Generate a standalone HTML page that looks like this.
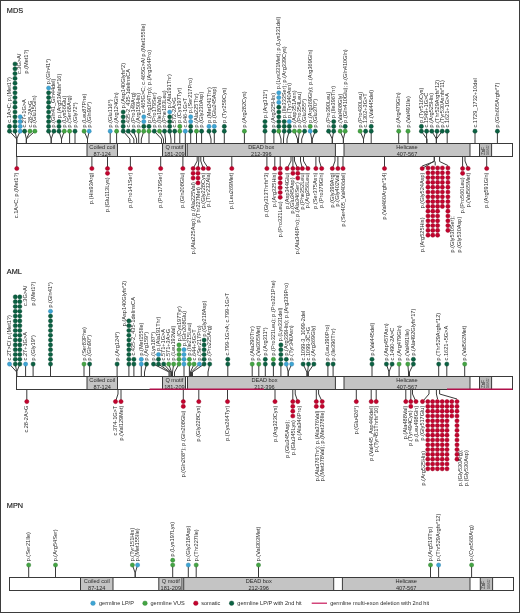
<!DOCTYPE html>
<html><head><meta charset="utf-8"><style>
html,body{margin:0;padding:0;background:#fff;}
body{width:520px;height:613px;overflow:hidden;}
svg{display:block;font-family:"Liberation Sans",sans-serif;will-change:transform;}
</style></head><body>
<svg width="520" height="613" viewBox="0 0 520 613">
<rect x="0.5" y="0.5" width="519" height="612" fill="#fff" stroke="#3d3d3d" stroke-width="1"/>
<text x="6.8" y="12.8" font-size="7.3" fill="#151515" stroke="#151515" stroke-width="0.15">MDS</text>
<rect x="16.5" y="143.5" width="496.0" height="13" fill="#fff" stroke="#3a3a3a" stroke-width="1"/>
<rect x="87" y="143.5" width="30.5" height="13" fill="#c4c4c4" stroke="#3a3a3a" stroke-width="1"/>
<text x="102.25" y="148.70" text-anchor="middle" font-size="5.6" fill="#2a2a2a">Coiled coil</text>
<text x="102.25" y="155.80" text-anchor="middle" font-size="5.6" fill="#2a2a2a">87-124</text>
<rect x="162.5" y="143.5" width="23.0" height="13" fill="#c4c4c4" stroke="#3a3a3a" stroke-width="1"/>
<text x="174.40" y="148.70" text-anchor="middle" font-size="5.6" fill="#2a2a2a">Q motif</text>
<text x="174.40" y="155.80" text-anchor="middle" font-size="5.6" fill="#2a2a2a">181-209</text>
<rect x="187.2" y="143.5" width="148.2" height="13" fill="#c4c4c4" stroke="#3a3a3a" stroke-width="1"/>
<text x="261.30" y="148.70" text-anchor="middle" font-size="5.6" fill="#2a2a2a">DEAD box</text>
<text x="261.30" y="155.80" text-anchor="middle" font-size="5.6" fill="#2a2a2a">212-396</text>
<rect x="344" y="143.5" width="126" height="13" fill="#c4c4c4" stroke="#3a3a3a" stroke-width="1"/>
<text x="407.00" y="148.70" text-anchor="middle" font-size="5.6" fill="#2a2a2a">Helicase</text>
<text x="407.00" y="155.80" text-anchor="middle" font-size="5.6" fill="#2a2a2a">407-567</text>
<rect x="479.5" y="143.5" width="12.100000000000023" height="13" fill="#bcbcbc" stroke="#3a3a3a" stroke-width="1"/>
<text transform="translate(484.50,155.00) rotate(-90)" font-size="4.6" fill="#333">ZnF</text>
<text transform="translate(489.10,155.00) rotate(-90)" font-size="2.6" fill="#444">580-622</text>
<polyline points="9.50,131.20 16.70,139.00 16.70,143.00" fill="none" stroke="#3a3a3a" stroke-width="1.0"/>
<polyline points="15.00,131.20 16.70,139.00 16.70,143.00" fill="none" stroke="#3a3a3a" stroke-width="1.0"/>
<polyline points="20.20,131.20 16.70,139.00 16.70,143.00" fill="none" stroke="#3a3a3a" stroke-width="1.0"/>
<polyline points="24.60,131.20 26.40,139.00 26.40,143.00" fill="none" stroke="#3a3a3a" stroke-width="1.0"/>
<polyline points="30.00,131.20 26.40,139.00 26.40,143.00" fill="none" stroke="#3a3a3a" stroke-width="1.0"/>
<polyline points="34.90,131.20 26.40,139.00 26.40,143.00" fill="none" stroke="#3a3a3a" stroke-width="1.0"/>
<polyline points="48.60,131.20 51.20,139.00 51.20,143.00" fill="none" stroke="#3a3a3a" stroke-width="1.0"/>
<polyline points="53.90,131.20 51.20,139.00 51.20,143.00" fill="none" stroke="#3a3a3a" stroke-width="1.0"/>
<polyline points="59.00,131.20 61.50,139.00 61.50,143.00" fill="none" stroke="#3a3a3a" stroke-width="1.0"/>
<polyline points="64.30,131.20 61.50,139.00 61.50,143.00" fill="none" stroke="#3a3a3a" stroke-width="1.0"/>
<polyline points="69.60,131.20 69.60,143.00" fill="none" stroke="#3a3a3a" stroke-width="1.0"/>
<polyline points="75.00,131.20 75.00,143.00" fill="none" stroke="#3a3a3a" stroke-width="1.0"/>
<polyline points="84.10,131.20 87.50,139.00 87.50,143.00" fill="none" stroke="#3a3a3a" stroke-width="1.0"/>
<polyline points="89.20,131.20 87.50,139.00 87.50,143.00" fill="none" stroke="#3a3a3a" stroke-width="1.0"/>
<polyline points="110.20,131.20 110.20,143.00" fill="none" stroke="#3a3a3a" stroke-width="1.0"/>
<polyline points="116.60,131.20 116.60,143.00" fill="none" stroke="#3a3a3a" stroke-width="1.0"/>
<polyline points="123.20,131.20 129.90,139.00 129.90,143.00" fill="none" stroke="#3a3a3a" stroke-width="1.0"/>
<polyline points="128.30,131.20 133.90,139.00 133.90,143.00" fill="none" stroke="#3a3a3a" stroke-width="1.0"/>
<polyline points="133.40,131.20 136.60,139.00 136.60,143.00" fill="none" stroke="#3a3a3a" stroke-width="1.0"/>
<polyline points="138.70,131.20 138.70,143.00" fill="none" stroke="#3a3a3a" stroke-width="1.0"/>
<polyline points="143.80,131.20 141.30,139.00 141.30,143.00" fill="none" stroke="#3a3a3a" stroke-width="1.0"/>
<polyline points="149.00,131.20 149.00,143.00" fill="none" stroke="#3a3a3a" stroke-width="1.0"/>
<polyline points="154.30,131.20 161.50,139.00 161.50,143.00" fill="none" stroke="#3a3a3a" stroke-width="1.0"/>
<polyline points="159.50,131.20 163.50,139.00 163.50,143.00" fill="none" stroke="#3a3a3a" stroke-width="1.0"/>
<polyline points="164.50,131.20 165.50,139.00 165.50,143.00" fill="none" stroke="#3a3a3a" stroke-width="1.0"/>
<polyline points="169.70,131.20 171.00,139.00 171.00,143.00" fill="none" stroke="#3a3a3a" stroke-width="1.0"/>
<polyline points="174.70,131.20 174.70,143.00" fill="none" stroke="#3a3a3a" stroke-width="1.0"/>
<polyline points="179.80,131.20 179.80,143.00" fill="none" stroke="#3a3a3a" stroke-width="1.0"/>
<polyline points="185.30,131.20 185.30,143.00" fill="none" stroke="#3a3a3a" stroke-width="1.0"/>
<polyline points="190.70,131.20 190.70,143.00" fill="none" stroke="#3a3a3a" stroke-width="1.0"/>
<polyline points="196.50,131.20 196.50,143.00" fill="none" stroke="#3a3a3a" stroke-width="1.0"/>
<polyline points="201.60,131.20 201.60,143.00" fill="none" stroke="#3a3a3a" stroke-width="1.0"/>
<polyline points="209.00,131.20 211.00,139.00 211.00,143.00" fill="none" stroke="#3a3a3a" stroke-width="1.0"/>
<polyline points="214.30,131.20 214.30,143.00" fill="none" stroke="#3a3a3a" stroke-width="1.0"/>
<polyline points="224.30,131.20 224.30,143.00" fill="none" stroke="#3a3a3a" stroke-width="1.0"/>
<polyline points="244.40,131.20 244.40,143.00" fill="none" stroke="#3a3a3a" stroke-width="1.0"/>
<polyline points="265.00,131.20 265.00,143.00" fill="none" stroke="#3a3a3a" stroke-width="1.0"/>
<polyline points="273.90,131.20 273.90,143.00" fill="none" stroke="#3a3a3a" stroke-width="1.0"/>
<polyline points="278.80,131.20 281.00,139.00 281.00,143.00" fill="none" stroke="#3a3a3a" stroke-width="1.0"/>
<polyline points="284.20,131.20 283.50,139.00 283.50,143.00" fill="none" stroke="#3a3a3a" stroke-width="1.0"/>
<polyline points="289.30,131.20 287.00,139.00 287.00,143.00" fill="none" stroke="#3a3a3a" stroke-width="1.0"/>
<polyline points="294.40,131.20 297.50,139.00 297.50,143.00" fill="none" stroke="#3a3a3a" stroke-width="1.0"/>
<polyline points="299.40,131.20 298.50,139.00 298.50,143.00" fill="none" stroke="#3a3a3a" stroke-width="1.0"/>
<polyline points="304.60,131.20 301.70,139.00 301.70,143.00" fill="none" stroke="#3a3a3a" stroke-width="1.0"/>
<polyline points="310.20,131.20 311.70,139.00 311.70,143.00" fill="none" stroke="#3a3a3a" stroke-width="1.0"/>
<polyline points="315.30,131.20 312.30,139.00 312.30,143.00" fill="none" stroke="#3a3a3a" stroke-width="1.0"/>
<polyline points="328.60,131.20 332.30,139.00 332.30,143.00" fill="none" stroke="#3a3a3a" stroke-width="1.0"/>
<polyline points="333.70,131.20 332.30,139.00 332.30,143.00" fill="none" stroke="#3a3a3a" stroke-width="1.0"/>
<polyline points="340.20,131.20 343.40,139.00 343.40,143.00" fill="none" stroke="#3a3a3a" stroke-width="1.0"/>
<polyline points="345.20,131.20 343.40,139.00 343.40,143.00" fill="none" stroke="#3a3a3a" stroke-width="1.0"/>
<polyline points="360.10,131.20 363.50,139.00 363.50,143.00" fill="none" stroke="#3a3a3a" stroke-width="1.0"/>
<polyline points="365.60,131.20 363.50,139.00 363.50,143.00" fill="none" stroke="#3a3a3a" stroke-width="1.0"/>
<polyline points="371.20,131.20 371.20,143.00" fill="none" stroke="#3a3a3a" stroke-width="1.0"/>
<polyline points="398.70,131.20 398.70,143.00" fill="none" stroke="#3a3a3a" stroke-width="1.0"/>
<polyline points="408.00,131.20 408.00,143.00" fill="none" stroke="#3a3a3a" stroke-width="1.0"/>
<polyline points="421.40,131.20 427.00,139.00 427.00,143.00" fill="none" stroke="#3a3a3a" stroke-width="1.0"/>
<polyline points="426.60,131.20 426.60,143.00" fill="none" stroke="#3a3a3a" stroke-width="1.0"/>
<polyline points="431.80,131.20 436.40,139.00 436.40,143.00" fill="none" stroke="#3a3a3a" stroke-width="1.0"/>
<polyline points="437.00,131.20 436.40,139.00 436.40,143.00" fill="none" stroke="#3a3a3a" stroke-width="1.0"/>
<polyline points="442.20,131.20 436.40,139.00 436.40,143.00" fill="none" stroke="#3a3a3a" stroke-width="1.0"/>
<polyline points="447.20,131.20 447.20,143.00" fill="none" stroke="#3a3a3a" stroke-width="1.0"/>
<polyline points="475.00,131.20 475.00,143.00" fill="none" stroke="#3a3a3a" stroke-width="1.0"/>
<polyline points="497.40,131.20 497.40,143.00" fill="none" stroke="#3a3a3a" stroke-width="1.0"/>
<circle cx="9.50" cy="131.20" r="2.1" fill="#0b6142" stroke="#07452e" stroke-width="0.45"/>
<circle cx="9.50" cy="126.40" r="2.1" fill="#0b6142" stroke="#07452e" stroke-width="0.45"/>
<circle cx="15.00" cy="131.20" r="2.1" fill="#0b6142" stroke="#07452e" stroke-width="0.45"/>
<circle cx="15.00" cy="126.40" r="2.1" fill="#0b6142" stroke="#07452e" stroke-width="0.45"/>
<circle cx="15.00" cy="121.60" r="2.1" fill="#0b6142" stroke="#07452e" stroke-width="0.45"/>
<circle cx="15.00" cy="116.80" r="2.1" fill="#0b6142" stroke="#07452e" stroke-width="0.45"/>
<circle cx="15.00" cy="112.00" r="2.1" fill="#0b6142" stroke="#07452e" stroke-width="0.45"/>
<circle cx="15.00" cy="107.20" r="2.1" fill="#0b6142" stroke="#07452e" stroke-width="0.45"/>
<circle cx="15.00" cy="102.40" r="2.1" fill="#0b6142" stroke="#07452e" stroke-width="0.45"/>
<circle cx="15.00" cy="97.60" r="2.1" fill="#0b6142" stroke="#07452e" stroke-width="0.45"/>
<circle cx="15.00" cy="92.80" r="2.1" fill="#0b6142" stroke="#07452e" stroke-width="0.45"/>
<circle cx="15.00" cy="88.00" r="2.1" fill="#0b6142" stroke="#07452e" stroke-width="0.45"/>
<circle cx="15.00" cy="83.20" r="2.1" fill="#0b6142" stroke="#07452e" stroke-width="0.45"/>
<circle cx="15.00" cy="78.40" r="2.1" fill="#0b6142" stroke="#07452e" stroke-width="0.45"/>
<circle cx="15.00" cy="73.60" r="2.1" fill="#0b6142" stroke="#07452e" stroke-width="0.45"/>
<circle cx="15.00" cy="68.80" r="2.1" fill="#0b6142" stroke="#07452e" stroke-width="0.45"/>
<circle cx="15.00" cy="64.00" r="2.1" fill="#0b6142" stroke="#07452e" stroke-width="0.45"/>
<circle cx="20.20" cy="131.20" r="2.1" fill="#3ea5d4" stroke="#2a82ad" stroke-width="0.45"/>
<circle cx="20.20" cy="126.40" r="2.1" fill="#3ea5d4" stroke="#2a82ad" stroke-width="0.45"/>
<circle cx="20.20" cy="121.60" r="2.1" fill="#3ea5d4" stroke="#2a82ad" stroke-width="0.45"/>
<circle cx="20.20" cy="116.80" r="2.1" fill="#3ea5d4" stroke="#2a82ad" stroke-width="0.45"/>
<circle cx="24.60" cy="131.20" r="2.1" fill="#0b6142" stroke="#07452e" stroke-width="0.45"/>
<circle cx="30.00" cy="131.20" r="2.1" fill="#44a544" stroke="#2a7a2a" stroke-width="0.45"/>
<circle cx="34.90" cy="131.20" r="2.1" fill="#44a544" stroke="#2a7a2a" stroke-width="0.45"/>
<circle cx="48.60" cy="131.20" r="2.1" fill="#0b6142" stroke="#07452e" stroke-width="0.45"/>
<circle cx="48.60" cy="126.40" r="2.1" fill="#0b6142" stroke="#07452e" stroke-width="0.45"/>
<circle cx="48.60" cy="121.60" r="2.1" fill="#0b6142" stroke="#07452e" stroke-width="0.45"/>
<circle cx="48.60" cy="116.80" r="2.1" fill="#0b6142" stroke="#07452e" stroke-width="0.45"/>
<circle cx="48.60" cy="112.00" r="2.1" fill="#0b6142" stroke="#07452e" stroke-width="0.45"/>
<circle cx="48.60" cy="107.20" r="2.1" fill="#0b6142" stroke="#07452e" stroke-width="0.45"/>
<circle cx="48.60" cy="102.40" r="2.1" fill="#0b6142" stroke="#07452e" stroke-width="0.45"/>
<circle cx="48.60" cy="97.60" r="2.1" fill="#0b6142" stroke="#07452e" stroke-width="0.45"/>
<circle cx="48.60" cy="92.80" r="2.1" fill="#0b6142" stroke="#07452e" stroke-width="0.45"/>
<circle cx="48.60" cy="88.00" r="2.1" fill="#3ea5d4" stroke="#2a82ad" stroke-width="0.45"/>
<circle cx="53.90" cy="131.20" r="2.1" fill="#0b6142" stroke="#07452e" stroke-width="0.45"/>
<circle cx="59.00" cy="131.20" r="2.1" fill="#0b6142" stroke="#07452e" stroke-width="0.45"/>
<circle cx="59.00" cy="126.40" r="2.1" fill="#0b6142" stroke="#07452e" stroke-width="0.45"/>
<circle cx="59.00" cy="121.60" r="2.1" fill="#0b6142" stroke="#07452e" stroke-width="0.45"/>
<circle cx="64.30" cy="131.20" r="2.1" fill="#44a544" stroke="#2a7a2a" stroke-width="0.45"/>
<circle cx="69.60" cy="131.20" r="2.1" fill="#44a544" stroke="#2a7a2a" stroke-width="0.45"/>
<circle cx="75.00" cy="131.20" r="2.1" fill="#0b6142" stroke="#07452e" stroke-width="0.45"/>
<circle cx="84.10" cy="131.20" r="2.1" fill="#44a544" stroke="#2a7a2a" stroke-width="0.45"/>
<circle cx="89.20" cy="131.20" r="2.1" fill="#3ea5d4" stroke="#2a82ad" stroke-width="0.45"/>
<circle cx="110.20" cy="131.20" r="2.1" fill="#3ea5d4" stroke="#2a82ad" stroke-width="0.45"/>
<circle cx="116.60" cy="131.20" r="2.1" fill="#44a544" stroke="#2a7a2a" stroke-width="0.45"/>
<circle cx="123.20" cy="131.20" r="2.1" fill="#0b6142" stroke="#07452e" stroke-width="0.45"/>
<circle cx="123.20" cy="126.40" r="2.1" fill="#0b6142" stroke="#07452e" stroke-width="0.45"/>
<circle cx="123.20" cy="121.60" r="2.1" fill="#0b6142" stroke="#07452e" stroke-width="0.45"/>
<circle cx="123.20" cy="116.80" r="2.1" fill="#0b6142" stroke="#07452e" stroke-width="0.45"/>
<circle cx="123.20" cy="112.00" r="2.1" fill="#0b6142" stroke="#07452e" stroke-width="0.45"/>
<circle cx="128.30" cy="131.20" r="2.1" fill="#0b6142" stroke="#07452e" stroke-width="0.45"/>
<circle cx="133.40" cy="131.20" r="2.1" fill="#0b6142" stroke="#07452e" stroke-width="0.45"/>
<circle cx="138.70" cy="131.20" r="2.1" fill="#44a544" stroke="#2a7a2a" stroke-width="0.45"/>
<circle cx="143.80" cy="131.20" r="2.1" fill="#44a544" stroke="#2a7a2a" stroke-width="0.45"/>
<circle cx="143.80" cy="126.40" r="2.1" fill="#0b6142" stroke="#07452e" stroke-width="0.45"/>
<circle cx="143.80" cy="121.60" r="2.1" fill="#3ea5d4" stroke="#2a82ad" stroke-width="0.45"/>
<circle cx="143.80" cy="116.80" r="2.1" fill="#3ea5d4" stroke="#2a82ad" stroke-width="0.45"/>
<circle cx="149.00" cy="131.20" r="2.1" fill="#44a544" stroke="#2a7a2a" stroke-width="0.45"/>
<circle cx="149.00" cy="126.40" r="2.1" fill="#0b6142" stroke="#07452e" stroke-width="0.45"/>
<circle cx="154.30" cy="131.20" r="2.1" fill="#0b6142" stroke="#07452e" stroke-width="0.45"/>
<circle cx="159.50" cy="131.20" r="2.1" fill="#44a544" stroke="#2a7a2a" stroke-width="0.45"/>
<circle cx="164.50" cy="131.20" r="2.1" fill="#0b6142" stroke="#07452e" stroke-width="0.45"/>
<circle cx="169.70" cy="131.20" r="2.1" fill="#0b6142" stroke="#07452e" stroke-width="0.45"/>
<circle cx="169.70" cy="126.40" r="2.1" fill="#0b6142" stroke="#07452e" stroke-width="0.45"/>
<circle cx="169.70" cy="121.60" r="2.1" fill="#0b6142" stroke="#07452e" stroke-width="0.45"/>
<circle cx="169.70" cy="116.80" r="2.1" fill="#0b6142" stroke="#07452e" stroke-width="0.45"/>
<circle cx="169.70" cy="112.00" r="2.1" fill="#3ea5d4" stroke="#2a82ad" stroke-width="0.45"/>
<circle cx="174.70" cy="131.20" r="2.1" fill="#0b6142" stroke="#07452e" stroke-width="0.45"/>
<circle cx="179.80" cy="131.20" r="2.1" fill="#44a544" stroke="#2a7a2a" stroke-width="0.45"/>
<circle cx="179.80" cy="126.40" r="2.1" fill="#44a544" stroke="#2a7a2a" stroke-width="0.45"/>
<circle cx="185.30" cy="131.20" r="2.1" fill="#3ea5d4" stroke="#2a82ad" stroke-width="0.45"/>
<circle cx="190.70" cy="131.20" r="2.1" fill="#0b6142" stroke="#07452e" stroke-width="0.45"/>
<circle cx="190.70" cy="126.40" r="2.1" fill="#0b6142" stroke="#07452e" stroke-width="0.45"/>
<circle cx="190.70" cy="121.60" r="2.1" fill="#3ea5d4" stroke="#2a82ad" stroke-width="0.45"/>
<circle cx="190.70" cy="116.80" r="2.1" fill="#3ea5d4" stroke="#2a82ad" stroke-width="0.45"/>
<circle cx="196.50" cy="131.20" r="2.1" fill="#44a544" stroke="#2a7a2a" stroke-width="0.45"/>
<circle cx="201.60" cy="131.20" r="2.1" fill="#0b6142" stroke="#07452e" stroke-width="0.45"/>
<circle cx="209.00" cy="131.20" r="2.1" fill="#0b6142" stroke="#07452e" stroke-width="0.45"/>
<circle cx="209.00" cy="126.40" r="2.1" fill="#3ea5d4" stroke="#2a82ad" stroke-width="0.45"/>
<circle cx="214.30" cy="131.20" r="2.1" fill="#0b6142" stroke="#07452e" stroke-width="0.45"/>
<circle cx="214.30" cy="126.40" r="2.1" fill="#3ea5d4" stroke="#2a82ad" stroke-width="0.45"/>
<circle cx="224.30" cy="131.20" r="2.1" fill="#0b6142" stroke="#07452e" stroke-width="0.45"/>
<circle cx="224.30" cy="126.40" r="2.1" fill="#0b6142" stroke="#07452e" stroke-width="0.45"/>
<circle cx="244.40" cy="131.20" r="2.1" fill="#44a544" stroke="#2a7a2a" stroke-width="0.45"/>
<circle cx="265.00" cy="131.20" r="2.1" fill="#0b6142" stroke="#07452e" stroke-width="0.45"/>
<circle cx="265.00" cy="126.40" r="2.1" fill="#0b6142" stroke="#07452e" stroke-width="0.45"/>
<circle cx="265.00" cy="121.60" r="2.1" fill="#0b6142" stroke="#07452e" stroke-width="0.45"/>
<circle cx="273.90" cy="131.20" r="2.1" fill="#0b6142" stroke="#07452e" stroke-width="0.45"/>
<circle cx="278.80" cy="131.20" r="2.1" fill="#44a544" stroke="#2a7a2a" stroke-width="0.45"/>
<circle cx="278.80" cy="126.40" r="2.1" fill="#0b6142" stroke="#07452e" stroke-width="0.45"/>
<circle cx="278.80" cy="121.60" r="2.1" fill="#0b6142" stroke="#07452e" stroke-width="0.45"/>
<circle cx="278.80" cy="116.80" r="2.1" fill="#0b6142" stroke="#07452e" stroke-width="0.45"/>
<circle cx="278.80" cy="112.00" r="2.1" fill="#0b6142" stroke="#07452e" stroke-width="0.45"/>
<circle cx="278.80" cy="107.20" r="2.1" fill="#0b6142" stroke="#07452e" stroke-width="0.45"/>
<circle cx="278.80" cy="102.40" r="2.1" fill="#3ea5d4" stroke="#2a82ad" stroke-width="0.45"/>
<circle cx="278.80" cy="97.60" r="2.1" fill="#3ea5d4" stroke="#2a82ad" stroke-width="0.45"/>
<circle cx="278.80" cy="92.80" r="2.1" fill="#3ea5d4" stroke="#2a82ad" stroke-width="0.45"/>
<circle cx="284.20" cy="131.20" r="2.1" fill="#0b6142" stroke="#07452e" stroke-width="0.45"/>
<circle cx="284.20" cy="126.40" r="2.1" fill="#0b6142" stroke="#07452e" stroke-width="0.45"/>
<circle cx="284.20" cy="121.60" r="2.1" fill="#0b6142" stroke="#07452e" stroke-width="0.45"/>
<circle cx="289.30" cy="131.20" r="2.1" fill="#0b6142" stroke="#07452e" stroke-width="0.45"/>
<circle cx="289.30" cy="126.40" r="2.1" fill="#0b6142" stroke="#07452e" stroke-width="0.45"/>
<circle cx="289.30" cy="121.60" r="2.1" fill="#3ea5d4" stroke="#2a82ad" stroke-width="0.45"/>
<circle cx="294.40" cy="131.20" r="2.1" fill="#44a544" stroke="#2a7a2a" stroke-width="0.45"/>
<circle cx="299.40" cy="131.20" r="2.1" fill="#44a544" stroke="#2a7a2a" stroke-width="0.45"/>
<circle cx="304.60" cy="131.20" r="2.1" fill="#0b6142" stroke="#07452e" stroke-width="0.45"/>
<circle cx="310.20" cy="131.20" r="2.1" fill="#3ea5d4" stroke="#2a82ad" stroke-width="0.45"/>
<circle cx="310.20" cy="126.40" r="2.1" fill="#44a544" stroke="#2a7a2a" stroke-width="0.45"/>
<circle cx="315.30" cy="131.20" r="2.1" fill="#0b6142" stroke="#07452e" stroke-width="0.45"/>
<circle cx="328.60" cy="131.20" r="2.1" fill="#0b6142" stroke="#07452e" stroke-width="0.45"/>
<circle cx="333.70" cy="131.20" r="2.1" fill="#0b6142" stroke="#07452e" stroke-width="0.45"/>
<circle cx="333.70" cy="126.40" r="2.1" fill="#0b6142" stroke="#07452e" stroke-width="0.45"/>
<circle cx="333.70" cy="121.60" r="2.1" fill="#0b6142" stroke="#07452e" stroke-width="0.45"/>
<circle cx="340.20" cy="131.20" r="2.1" fill="#44a544" stroke="#2a7a2a" stroke-width="0.45"/>
<circle cx="345.20" cy="131.20" r="2.1" fill="#44a544" stroke="#2a7a2a" stroke-width="0.45"/>
<circle cx="345.20" cy="126.40" r="2.1" fill="#0b6142" stroke="#07452e" stroke-width="0.45"/>
<circle cx="360.10" cy="131.20" r="2.1" fill="#44a544" stroke="#2a7a2a" stroke-width="0.45"/>
<circle cx="365.60" cy="131.20" r="2.1" fill="#0b6142" stroke="#07452e" stroke-width="0.45"/>
<circle cx="371.20" cy="131.20" r="2.1" fill="#0b6142" stroke="#07452e" stroke-width="0.45"/>
<circle cx="371.20" cy="126.40" r="2.1" fill="#0b6142" stroke="#07452e" stroke-width="0.45"/>
<circle cx="398.70" cy="131.20" r="2.1" fill="#44a544" stroke="#2a7a2a" stroke-width="0.45"/>
<circle cx="408.00" cy="131.20" r="2.1" fill="#44a544" stroke="#2a7a2a" stroke-width="0.45"/>
<circle cx="421.40" cy="131.20" r="2.1" fill="#0b6142" stroke="#07452e" stroke-width="0.45"/>
<circle cx="421.40" cy="126.40" r="2.1" fill="#0b6142" stroke="#07452e" stroke-width="0.45"/>
<circle cx="426.60" cy="131.20" r="2.1" fill="#0b6142" stroke="#07452e" stroke-width="0.45"/>
<circle cx="431.80" cy="131.20" r="2.1" fill="#0b6142" stroke="#07452e" stroke-width="0.45"/>
<circle cx="437.00" cy="131.20" r="2.1" fill="#0b6142" stroke="#07452e" stroke-width="0.45"/>
<circle cx="442.20" cy="131.20" r="2.1" fill="#0b6142" stroke="#07452e" stroke-width="0.45"/>
<circle cx="447.20" cy="131.20" r="2.1" fill="#0b6142" stroke="#07452e" stroke-width="0.45"/>
<circle cx="475.00" cy="131.20" r="2.1" fill="#0b6142" stroke="#07452e" stroke-width="0.45"/>
<circle cx="497.40" cy="131.20" r="2.1" fill="#0b6142" stroke="#07452e" stroke-width="0.45"/>
<text transform="translate(11.07,122.70) rotate(-90)" text-anchor="start" font-size="5.6" fill="#2a2a2a">c.1A&gt;C; p.(Met1?)</text>
<text transform="translate(20.77,74.00) rotate(-90)" text-anchor="start" font-size="5.6" fill="#2a2a2a">c.3G&gt;A/</text>
<text transform="translate(27.87,73.50) rotate(-90)" text-anchor="start" font-size="5.6" fill="#2a2a2a">p.(Met1?)</text>
<text transform="translate(26.17,127.50) rotate(-90)" text-anchor="start" font-size="5.6" fill="#2a2a2a">c.27+1G&gt;A</text>
<text transform="translate(31.57,127.50) rotate(-90)" text-anchor="start" font-size="5.6" fill="#2a2a2a">c.28-2A&gt;G</text>
<text transform="translate(36.47,127.50) rotate(-90)" text-anchor="start" font-size="5.6" fill="#2a2a2a">p.(Glu15Gln)</text>
<text transform="translate(50.17,84.30) rotate(-90)" text-anchor="start" font-size="5.6" fill="#2a2a2a">p.(Gln41*)</text>
<text transform="translate(55.47,127.50) rotate(-90)" text-anchor="start" font-size="5.6" fill="#2a2a2a">p.(Gln41_Gln44del)</text>
<text transform="translate(60.57,117.90) rotate(-90)" text-anchor="start" font-size="5.6" fill="#2a2a2a">p.(Arg53Alafs*16)</text>
<text transform="translate(65.87,127.50) rotate(-90)" text-anchor="start" font-size="5.6" fill="#2a2a2a">p.(Lys56Glu)</text>
<text transform="translate(71.17,127.50) rotate(-90)" text-anchor="start" font-size="5.6" fill="#2a2a2a">p.(Ser68Arg)</text>
<text transform="translate(76.57,127.50) rotate(-90)" text-anchor="start" font-size="5.6" fill="#2a2a2a">p.(Gly72*)</text>
<text transform="translate(85.67,127.50) rotate(-90)" text-anchor="start" font-size="5.6" fill="#2a2a2a">p.(Leu87Phe)</text>
<text transform="translate(90.77,127.50) rotate(-90)" text-anchor="start" font-size="5.6" fill="#2a2a2a">p.(Gln90*)</text>
<text transform="translate(111.77,127.50) rotate(-90)" text-anchor="start" font-size="5.6" fill="#2a2a2a">p.(Glu116*)</text>
<text transform="translate(118.17,127.50) rotate(-90)" text-anchor="start" font-size="5.6" fill="#2a2a2a">p.(Arg124Gln)</text>
<text transform="translate(124.77,108.30) rotate(-90)" text-anchor="start" font-size="5.6" fill="#2a2a2a">p.(Asp140Glyfs*2)</text>
<text transform="translate(129.87,127.50) rotate(-90)" text-anchor="start" font-size="5.6" fill="#2a2a2a">c.435-2_435-1delinsCA</text>
<text transform="translate(134.97,127.50) rotate(-90)" text-anchor="start" font-size="5.6" fill="#2a2a2a">p.(Pro149Arg)</text>
<text transform="translate(140.27,127.50) rotate(-90)" text-anchor="start" font-size="5.6" fill="#2a2a2a">p.(Arg150His)</text>
<text transform="translate(145.37,113.10) rotate(-90)" text-anchor="start" font-size="5.6" fill="#2a2a2a">c.465G&gt;C; c.465G&gt;A/ p.(Met155Ile)</text>
<text transform="translate(150.57,122.70) rotate(-90)" text-anchor="start" font-size="5.6" fill="#2a2a2a">p.(Arg164Trp); p.(Arg164Pro)</text>
<text transform="translate(155.87,127.50) rotate(-90)" text-anchor="start" font-size="5.6" fill="#2a2a2a">p.(Pro179Ser)</text>
<text transform="translate(161.07,127.50) rotate(-90)" text-anchor="start" font-size="5.6" fill="#2a2a2a">p.(Ile180Val)</text>
<text transform="translate(166.07,127.50) rotate(-90)" text-anchor="start" font-size="5.6" fill="#2a2a2a">p.(Phe183Leu)</text>
<text transform="translate(171.27,108.30) rotate(-90)" text-anchor="start" font-size="5.6" fill="#2a2a2a">p.(Ala191Thr)</text>
<text transform="translate(176.27,127.50) rotate(-90)" text-anchor="start" font-size="5.6" fill="#2a2a2a">c.572-2A&gt;G</text>
<text transform="translate(181.37,122.70) rotate(-90)" text-anchor="start" font-size="5.6" fill="#2a2a2a">p.(Cys197Tyr)</text>
<text transform="translate(186.87,127.50) rotate(-90)" text-anchor="start" font-size="5.6" fill="#2a2a2a">c.646-1G&gt;T</text>
<text transform="translate(192.27,113.10) rotate(-90)" text-anchor="start" font-size="5.6" fill="#2a2a2a">p.(Ser217Pro)</text>
<text transform="translate(198.07,127.50) rotate(-90)" text-anchor="start" font-size="5.6" fill="#2a2a2a">p.(Ala225Thr)</text>
<text transform="translate(203.17,127.50) rotate(-90)" text-anchor="start" font-size="5.6" fill="#2a2a2a">p.(Gly230Asp)</text>
<text transform="translate(210.57,122.70) rotate(-90)" text-anchor="start" font-size="5.6" fill="#2a2a2a">p.(Met241Thr)</text>
<text transform="translate(215.87,122.70) rotate(-90)" text-anchor="start" font-size="5.6" fill="#2a2a2a">p.(Glu245Asp)</text>
<text transform="translate(225.87,122.70) rotate(-90)" text-anchor="start" font-size="5.6" fill="#2a2a2a">p.(Tyr259Cys)</text>
<text transform="translate(245.97,127.50) rotate(-90)" text-anchor="start" font-size="5.6" fill="#2a2a2a">p.(Arg282Cys)</text>
<text transform="translate(266.57,117.90) rotate(-90)" text-anchor="start" font-size="5.6" fill="#2a2a2a">p.(Arg311*)</text>
<text transform="translate(275.47,127.50) rotate(-90)" text-anchor="start" font-size="5.6" fill="#2a2a2a">p.(Arg325His)</text>
<text transform="translate(280.37,89.10) rotate(-90)" text-anchor="start" font-size="5.6" fill="#2a2a2a">p.(Lys331Met); p.(Lys331del)</text>
<text transform="translate(285.77,117.90) rotate(-90)" text-anchor="start" font-size="5.6" fill="#2a2a2a">p.(Ile333Ser); p.(Arg339Cys)</text>
<text transform="translate(290.87,117.90) rotate(-90)" text-anchor="start" font-size="5.6" fill="#2a2a2a">p.(Tyr340Asn)</text>
<text transform="translate(295.97,127.50) rotate(-90)" text-anchor="start" font-size="5.6" fill="#2a2a2a">p.(Asp351Asn)</text>
<text transform="translate(300.97,127.50) rotate(-90)" text-anchor="start" font-size="5.6" fill="#2a2a2a">p.(Pro354Leu)</text>
<text transform="translate(306.17,127.50) rotate(-90)" text-anchor="start" font-size="5.6" fill="#2a2a2a">p.(Glu355*)</text>
<text transform="translate(311.77,122.70) rotate(-90)" text-anchor="start" font-size="5.6" fill="#2a2a2a">p.(Arg369Gly); p.(Arg369Gln)</text>
<text transform="translate(316.87,127.50) rotate(-90)" text-anchor="start" font-size="5.6" fill="#2a2a2a">p.(Glu370*)</text>
<text transform="translate(330.17,127.50) rotate(-90)" text-anchor="start" font-size="5.6" fill="#2a2a2a">p.(Pro390Leu)</text>
<text transform="translate(335.27,117.90) rotate(-90)" text-anchor="start" font-size="5.6" fill="#2a2a2a">p.(Ile396Thr)</text>
<text transform="translate(341.77,127.50) rotate(-90)" text-anchor="start" font-size="5.6" fill="#2a2a2a">p.(Val408Gly)</text>
<text transform="translate(346.77,122.70) rotate(-90)" text-anchor="start" font-size="5.6" fill="#2a2a2a">p.(Gln410Glu); p.(Gln410Gln)</text>
<text transform="translate(361.67,127.50) rotate(-90)" text-anchor="start" font-size="5.6" fill="#2a2a2a">p.(Pro430Leu)</text>
<text transform="translate(367.17,127.50) rotate(-90)" text-anchor="start" font-size="5.6" fill="#2a2a2a">c.1302+3G&gt;T</text>
<text transform="translate(372.77,122.70) rotate(-90)" text-anchor="start" font-size="5.6" fill="#2a2a2a">p.(Val445del)</text>
<text transform="translate(400.27,127.50) rotate(-90)" text-anchor="start" font-size="5.6" fill="#2a2a2a">p.(Arg479Gln)</text>
<text transform="translate(409.57,127.50) rotate(-90)" text-anchor="start" font-size="5.6" fill="#2a2a2a">p.(Val491Ile)</text>
<text transform="translate(422.97,122.70) rotate(-90)" text-anchor="start" font-size="5.6" fill="#2a2a2a">p.(Tyr516Cys)</text>
<text transform="translate(428.17,127.50) rotate(-90)" text-anchor="start" font-size="5.6" fill="#2a2a2a">c.1549+1G&gt;C</text>
<text transform="translate(433.37,127.50) rotate(-90)" text-anchor="start" font-size="5.6" fill="#2a2a2a">p.(Arg525His)</text>
<text transform="translate(438.57,127.50) rotate(-90)" text-anchor="start" font-size="5.6" fill="#2a2a2a">p.(Thr529Argfs*12)</text>
<text transform="translate(443.77,127.50) rotate(-90)" text-anchor="start" font-size="5.6" fill="#2a2a2a">p.(Tyr530Asnfs*11)</text>
<text transform="translate(448.77,127.50) rotate(-90)" text-anchor="start" font-size="5.6" fill="#2a2a2a">c.1621+1G&gt;A</text>
<text transform="translate(476.57,127.50) rotate(-90)" text-anchor="start" font-size="5.6" fill="#2a2a2a">c.1729_1732+10del</text>
<text transform="translate(498.97,127.50) rotate(-90)" text-anchor="start" font-size="5.6" fill="#2a2a2a">p.(Gln605Argfs*7)</text>
<polyline points="16.80,157.00 16.80,168.50" fill="none" stroke="#3a3a3a" stroke-width="1.0"/>
<polyline points="91.90,157.00 91.90,168.50" fill="none" stroke="#3a3a3a" stroke-width="1.0"/>
<polyline points="107.50,157.00 107.50,168.50" fill="none" stroke="#3a3a3a" stroke-width="1.0"/>
<polyline points="130.40,157.00 130.40,168.50" fill="none" stroke="#3a3a3a" stroke-width="1.0"/>
<polyline points="160.70,157.00 160.70,168.50" fill="none" stroke="#3a3a3a" stroke-width="1.0"/>
<polyline points="182.90,157.00 182.90,168.50" fill="none" stroke="#3a3a3a" stroke-width="1.0"/>
<polyline points="197.20,157.00 197.20,161.00 193.10,168.50" fill="none" stroke="#3a3a3a" stroke-width="1.0"/>
<polyline points="198.80,157.00 198.80,161.00 198.00,168.50" fill="none" stroke="#3a3a3a" stroke-width="1.0"/>
<polyline points="200.80,157.00 200.80,161.00 203.30,168.50" fill="none" stroke="#3a3a3a" stroke-width="1.0"/>
<polyline points="203.60,157.00 203.60,161.00 208.40,168.50" fill="none" stroke="#3a3a3a" stroke-width="1.0"/>
<polyline points="231.80,157.00 231.80,168.50" fill="none" stroke="#3a3a3a" stroke-width="1.0"/>
<polyline points="266.90,157.00 266.90,168.50" fill="none" stroke="#3a3a3a" stroke-width="1.0"/>
<polyline points="274.80,157.00 274.80,168.50" fill="none" stroke="#3a3a3a" stroke-width="1.0"/>
<polyline points="280.20,157.00 280.20,168.50" fill="none" stroke="#3a3a3a" stroke-width="1.0"/>
<polyline points="291.00,157.00 291.00,161.00 287.10,168.50" fill="none" stroke="#3a3a3a" stroke-width="1.0"/>
<polyline points="292.90,157.00 292.90,168.50" fill="none" stroke="#3a3a3a" stroke-width="1.0"/>
<polyline points="294.50,157.00 294.50,161.00 297.80,168.50" fill="none" stroke="#3a3a3a" stroke-width="1.0"/>
<polyline points="300.50,157.00 300.50,161.00 302.40,168.50" fill="none" stroke="#3a3a3a" stroke-width="1.0"/>
<polyline points="303.50,157.00 303.50,161.00 307.90,168.50" fill="none" stroke="#3a3a3a" stroke-width="1.0"/>
<polyline points="315.90,157.00 315.90,168.50" fill="none" stroke="#3a3a3a" stroke-width="1.0"/>
<polyline points="319.30,157.00 319.30,161.00 321.70,168.50" fill="none" stroke="#3a3a3a" stroke-width="1.0"/>
<polyline points="335.00,157.00 335.00,161.00 332.30,168.50" fill="none" stroke="#3a3a3a" stroke-width="1.0"/>
<polyline points="337.90,157.00 337.90,168.50" fill="none" stroke="#3a3a3a" stroke-width="1.0"/>
<polyline points="343.00,157.00 343.00,168.50" fill="none" stroke="#3a3a3a" stroke-width="1.0"/>
<polyline points="384.50,157.00 384.50,168.50" fill="none" stroke="#3a3a3a" stroke-width="1.0"/>
<polyline points="434.20,157.00 434.20,161.00 422.20,168.50" fill="none" stroke="#3a3a3a" stroke-width="1.0"/>
<polyline points="462.60,157.00 462.60,168.50" fill="none" stroke="#3a3a3a" stroke-width="1.0"/>
<polyline points="465.00,157.00 465.00,161.00 468.10,168.50" fill="none" stroke="#3a3a3a" stroke-width="1.0"/>
<polyline points="486.70,157.00 486.70,168.50" fill="none" stroke="#3a3a3a" stroke-width="1.0"/>
<circle cx="16.80" cy="168.50" r="2.1" fill="#c3042e" stroke="#950022" stroke-width="0.45"/>
<circle cx="91.90" cy="168.50" r="2.1" fill="#c3042e" stroke="#950022" stroke-width="0.45"/>
<circle cx="107.50" cy="168.50" r="2.1" fill="#c3042e" stroke="#950022" stroke-width="0.45"/>
<circle cx="107.50" cy="173.30" r="2.1" fill="#c3042e" stroke="#950022" stroke-width="0.45"/>
<circle cx="130.40" cy="168.50" r="2.1" fill="#c3042e" stroke="#950022" stroke-width="0.45"/>
<circle cx="160.70" cy="168.50" r="2.1" fill="#c3042e" stroke="#950022" stroke-width="0.45"/>
<circle cx="182.90" cy="168.50" r="2.1" fill="#c3042e" stroke="#950022" stroke-width="0.45"/>
<circle cx="193.10" cy="168.50" r="2.1" fill="#c3042e" stroke="#950022" stroke-width="0.45"/>
<circle cx="193.10" cy="173.30" r="2.1" fill="#c3042e" stroke="#950022" stroke-width="0.45"/>
<circle cx="193.10" cy="178.10" r="2.1" fill="#c3042e" stroke="#950022" stroke-width="0.45"/>
<circle cx="198.00" cy="168.50" r="2.1" fill="#c3042e" stroke="#950022" stroke-width="0.45"/>
<circle cx="198.00" cy="173.30" r="2.1" fill="#c3042e" stroke="#950022" stroke-width="0.45"/>
<circle cx="198.00" cy="178.10" r="2.1" fill="#c3042e" stroke="#950022" stroke-width="0.45"/>
<circle cx="198.00" cy="182.90" r="2.1" fill="#c3042e" stroke="#950022" stroke-width="0.45"/>
<circle cx="203.30" cy="168.50" r="2.1" fill="#c3042e" stroke="#950022" stroke-width="0.45"/>
<circle cx="208.40" cy="168.50" r="2.1" fill="#c3042e" stroke="#950022" stroke-width="0.45"/>
<circle cx="231.80" cy="168.50" r="2.1" fill="#c3042e" stroke="#950022" stroke-width="0.45"/>
<circle cx="266.90" cy="168.50" r="2.1" fill="#c3042e" stroke="#950022" stroke-width="0.45"/>
<circle cx="274.80" cy="168.50" r="2.1" fill="#c3042e" stroke="#950022" stroke-width="0.45"/>
<circle cx="280.20" cy="168.50" r="2.1" fill="#c3042e" stroke="#950022" stroke-width="0.45"/>
<circle cx="280.20" cy="173.30" r="2.1" fill="#c3042e" stroke="#950022" stroke-width="0.45"/>
<circle cx="280.20" cy="178.10" r="2.1" fill="#c3042e" stroke="#950022" stroke-width="0.45"/>
<circle cx="280.20" cy="182.90" r="2.1" fill="#c3042e" stroke="#950022" stroke-width="0.45"/>
<circle cx="280.20" cy="187.70" r="2.1" fill="#c3042e" stroke="#950022" stroke-width="0.45"/>
<circle cx="280.20" cy="192.50" r="2.1" fill="#c3042e" stroke="#950022" stroke-width="0.45"/>
<circle cx="280.20" cy="197.30" r="2.1" fill="#c3042e" stroke="#950022" stroke-width="0.45"/>
<circle cx="287.10" cy="168.50" r="2.1" fill="#c3042e" stroke="#950022" stroke-width="0.45"/>
<circle cx="292.90" cy="168.50" r="2.1" fill="#c3042e" stroke="#950022" stroke-width="0.45"/>
<circle cx="292.90" cy="173.30" r="2.1" fill="#c3042e" stroke="#950022" stroke-width="0.45"/>
<circle cx="297.80" cy="168.50" r="2.1" fill="#c3042e" stroke="#950022" stroke-width="0.45"/>
<circle cx="297.80" cy="173.30" r="2.1" fill="#c3042e" stroke="#950022" stroke-width="0.45"/>
<circle cx="297.80" cy="178.10" r="2.1" fill="#c3042e" stroke="#950022" stroke-width="0.45"/>
<circle cx="302.40" cy="168.50" r="2.1" fill="#c3042e" stroke="#950022" stroke-width="0.45"/>
<circle cx="307.90" cy="168.50" r="2.1" fill="#c3042e" stroke="#950022" stroke-width="0.45"/>
<circle cx="315.90" cy="168.50" r="2.1" fill="#c3042e" stroke="#950022" stroke-width="0.45"/>
<circle cx="321.70" cy="168.50" r="2.1" fill="#c3042e" stroke="#950022" stroke-width="0.45"/>
<circle cx="332.30" cy="168.50" r="2.1" fill="#c3042e" stroke="#950022" stroke-width="0.45"/>
<circle cx="337.90" cy="168.50" r="2.1" fill="#c3042e" stroke="#950022" stroke-width="0.45"/>
<circle cx="343.00" cy="168.50" r="2.1" fill="#c3042e" stroke="#950022" stroke-width="0.45"/>
<circle cx="384.50" cy="168.50" r="2.1" fill="#c3042e" stroke="#950022" stroke-width="0.45"/>
<circle cx="422.20" cy="168.50" r="2.1" fill="#c3042e" stroke="#950022" stroke-width="0.45"/>
<circle cx="462.60" cy="168.50" r="2.1" fill="#c3042e" stroke="#950022" stroke-width="0.45"/>
<circle cx="462.60" cy="173.30" r="2.1" fill="#c3042e" stroke="#950022" stroke-width="0.45"/>
<circle cx="468.10" cy="168.50" r="2.1" fill="#c3042e" stroke="#950022" stroke-width="0.45"/>
<circle cx="486.70" cy="168.50" r="2.1" fill="#c3042e" stroke="#950022" stroke-width="0.45"/>
<text transform="translate(18.37,172.60) rotate(-90)" text-anchor="end" font-size="5.6" fill="#2a2a2a">c.1A&gt;C; p.(Met1?)</text>
<text transform="translate(93.47,172.60) rotate(-90)" text-anchor="end" font-size="5.6" fill="#2a2a2a">p.(His93Arg)</text>
<text transform="translate(109.07,177.40) rotate(-90)" text-anchor="end" font-size="5.6" fill="#2a2a2a">p.(Glu113Lys)</text>
<text transform="translate(131.97,172.60) rotate(-90)" text-anchor="end" font-size="5.6" fill="#2a2a2a">p.(Pro141Ser)</text>
<text transform="translate(162.27,172.60) rotate(-90)" text-anchor="end" font-size="5.6" fill="#2a2a2a">p.(Pro179Ser)</text>
<text transform="translate(184.47,172.60) rotate(-90)" text-anchor="end" font-size="5.6" fill="#2a2a2a">p.(Gln208Glu)</text>
<text transform="translate(194.67,182.20) rotate(-90)" text-anchor="end" font-size="5.6" fill="#2a2a2a">p.(Ala225Asp); p.(Ala225Val)</text>
<text transform="translate(199.57,187.00) rotate(-90)" text-anchor="end" font-size="5.6" fill="#2a2a2a">p.(Thr227Met)</text>
<text transform="translate(204.87,172.60) rotate(-90)" text-anchor="end" font-size="5.6" fill="#2a2a2a">p.(Gly228Cys)</text>
<text transform="translate(209.97,172.60) rotate(-90)" text-anchor="end" font-size="5.6" fill="#2a2a2a">p.(Thr232Ala)</text>
<text transform="translate(233.37,172.60) rotate(-90)" text-anchor="end" font-size="5.6" fill="#2a2a2a">p.(Leu269Met)</text>
<text transform="translate(268.47,172.60) rotate(-90)" text-anchor="end" font-size="5.6" fill="#2a2a2a">p.(Gly313Thrfs*3)</text>
<text transform="translate(276.37,172.60) rotate(-90)" text-anchor="end" font-size="5.6" fill="#2a2a2a">p.(Arg325His)</text>
<text transform="translate(281.77,201.40) rotate(-90)" text-anchor="end" font-size="5.6" fill="#2a2a2a">p.(Pro321Leu)</text>
<text transform="translate(288.67,172.60) rotate(-90)" text-anchor="end" font-size="5.6" fill="#2a2a2a">p.(Asp344Glu)</text>
<text transform="translate(294.47,177.40) rotate(-90)" text-anchor="end" font-size="5.6" fill="#2a2a2a">p.(Glu345Asp)</text>
<text transform="translate(299.37,182.20) rotate(-90)" text-anchor="end" font-size="5.6" fill="#2a2a2a">p.(Ala346Pro); p.(Ala346Ser)</text>
<text transform="translate(303.97,172.60) rotate(-90)" text-anchor="end" font-size="5.6" fill="#2a2a2a">p.(Phe352Leu)</text>
<text transform="translate(309.47,172.60) rotate(-90)" text-anchor="end" font-size="5.6" fill="#2a2a2a">p.(Arg356Leu)</text>
<text transform="translate(317.47,172.60) rotate(-90)" text-anchor="end" font-size="5.6" fill="#2a2a2a">p.(Ser375Asn)</text>
<text transform="translate(323.27,172.60) rotate(-90)" text-anchor="end" font-size="5.6" fill="#2a2a2a">p.(Pro379Gln)</text>
<text transform="translate(333.87,172.60) rotate(-90)" text-anchor="end" font-size="5.6" fill="#2a2a2a">p.(Gly399Arg)</text>
<text transform="translate(339.47,172.60) rotate(-90)" text-anchor="end" font-size="5.6" fill="#2a2a2a">p.(Gly402Val)</text>
<text transform="translate(344.57,172.60) rotate(-90)" text-anchor="end" font-size="5.6" fill="#2a2a2a">p.(Ser405_Val406del)</text>
<text transform="translate(386.07,172.60) rotate(-90)" text-anchor="end" font-size="5.6" fill="#2a2a2a">p.(Val460Argfs*14)</text>
<text transform="translate(423.77,172.60) rotate(-90)" text-anchor="end" font-size="5.6" fill="#2a2a2a">p.(Gly524Asp)</text>
<text transform="translate(464.17,177.40) rotate(-90)" text-anchor="end" font-size="5.6" fill="#2a2a2a">p.(Pro560Leu)</text>
<text transform="translate(469.67,172.60) rotate(-90)" text-anchor="end" font-size="5.6" fill="#2a2a2a">p.(Val565Met)</text>
<text transform="translate(488.27,172.60) rotate(-90)" text-anchor="end" font-size="5.6" fill="#2a2a2a">p.(Arg591Gln)</text>
<polyline points="434.40,157.00 434.40,161.50 422.20,166.00" fill="none" stroke="#3a3a3a" stroke-width="1.0"/>
<polyline points="435.20,161.50 435.20,165.50" fill="none" stroke="#3a3a3a" stroke-width="1.0"/>
<polyline points="439.60,157.00 439.60,161.50 447.90,165.50" fill="none" stroke="#3a3a3a" stroke-width="1.0"/>
<circle cx="428.00" cy="168.00" r="2.1" fill="#c3042e" stroke="#950022" stroke-width="0.45"/>
<circle cx="428.00" cy="172.80" r="2.1" fill="#c3042e" stroke="#950022" stroke-width="0.45"/>
<circle cx="428.00" cy="177.60" r="2.1" fill="#c3042e" stroke="#950022" stroke-width="0.45"/>
<circle cx="428.00" cy="182.40" r="2.1" fill="#c3042e" stroke="#950022" stroke-width="0.45"/>
<circle cx="428.00" cy="187.20" r="2.1" fill="#c3042e" stroke="#950022" stroke-width="0.45"/>
<circle cx="428.00" cy="192.00" r="2.1" fill="#c3042e" stroke="#950022" stroke-width="0.45"/>
<circle cx="428.00" cy="196.80" r="2.1" fill="#c3042e" stroke="#950022" stroke-width="0.45"/>
<circle cx="428.00" cy="201.60" r="2.1" fill="#c3042e" stroke="#950022" stroke-width="0.45"/>
<circle cx="428.00" cy="206.40" r="2.1" fill="#c3042e" stroke="#950022" stroke-width="0.45"/>
<circle cx="428.00" cy="211.20" r="2.1" fill="#c3042e" stroke="#950022" stroke-width="0.45"/>
<circle cx="428.00" cy="216.00" r="2.1" fill="#c3042e" stroke="#950022" stroke-width="0.45"/>
<circle cx="428.00" cy="220.80" r="2.1" fill="#c3042e" stroke="#950022" stroke-width="0.45"/>
<circle cx="428.00" cy="225.60" r="2.1" fill="#c3042e" stroke="#950022" stroke-width="0.45"/>
<circle cx="428.00" cy="230.40" r="2.1" fill="#c3042e" stroke="#950022" stroke-width="0.45"/>
<circle cx="428.00" cy="235.20" r="2.1" fill="#c3042e" stroke="#950022" stroke-width="0.45"/>
<circle cx="432.80" cy="168.00" r="2.1" fill="#c3042e" stroke="#950022" stroke-width="0.45"/>
<circle cx="432.80" cy="172.80" r="2.1" fill="#c3042e" stroke="#950022" stroke-width="0.45"/>
<circle cx="432.80" cy="177.60" r="2.1" fill="#c3042e" stroke="#950022" stroke-width="0.45"/>
<circle cx="432.80" cy="182.40" r="2.1" fill="#c3042e" stroke="#950022" stroke-width="0.45"/>
<circle cx="432.80" cy="187.20" r="2.1" fill="#c3042e" stroke="#950022" stroke-width="0.45"/>
<circle cx="432.80" cy="192.00" r="2.1" fill="#c3042e" stroke="#950022" stroke-width="0.45"/>
<circle cx="432.80" cy="196.80" r="2.1" fill="#c3042e" stroke="#950022" stroke-width="0.45"/>
<circle cx="432.80" cy="201.60" r="2.1" fill="#c3042e" stroke="#950022" stroke-width="0.45"/>
<circle cx="432.80" cy="206.40" r="2.1" fill="#c3042e" stroke="#950022" stroke-width="0.45"/>
<circle cx="432.80" cy="211.20" r="2.1" fill="#c3042e" stroke="#950022" stroke-width="0.45"/>
<circle cx="432.80" cy="216.00" r="2.1" fill="#c3042e" stroke="#950022" stroke-width="0.45"/>
<circle cx="432.80" cy="220.80" r="2.1" fill="#c3042e" stroke="#950022" stroke-width="0.45"/>
<circle cx="432.80" cy="225.60" r="2.1" fill="#c3042e" stroke="#950022" stroke-width="0.45"/>
<circle cx="432.80" cy="230.40" r="2.1" fill="#c3042e" stroke="#950022" stroke-width="0.45"/>
<circle cx="432.80" cy="235.20" r="2.1" fill="#c3042e" stroke="#950022" stroke-width="0.45"/>
<circle cx="437.60" cy="168.00" r="2.1" fill="#c3042e" stroke="#950022" stroke-width="0.45"/>
<circle cx="437.60" cy="172.80" r="2.1" fill="#c3042e" stroke="#950022" stroke-width="0.45"/>
<circle cx="437.60" cy="177.60" r="2.1" fill="#c3042e" stroke="#950022" stroke-width="0.45"/>
<circle cx="437.60" cy="182.40" r="2.1" fill="#c3042e" stroke="#950022" stroke-width="0.45"/>
<circle cx="437.60" cy="187.20" r="2.1" fill="#c3042e" stroke="#950022" stroke-width="0.45"/>
<circle cx="437.60" cy="192.00" r="2.1" fill="#c3042e" stroke="#950022" stroke-width="0.45"/>
<circle cx="437.60" cy="196.80" r="2.1" fill="#c3042e" stroke="#950022" stroke-width="0.45"/>
<circle cx="437.60" cy="201.60" r="2.1" fill="#c3042e" stroke="#950022" stroke-width="0.45"/>
<circle cx="437.60" cy="206.40" r="2.1" fill="#c3042e" stroke="#950022" stroke-width="0.45"/>
<circle cx="437.60" cy="211.20" r="2.1" fill="#c3042e" stroke="#950022" stroke-width="0.45"/>
<circle cx="437.60" cy="216.00" r="2.1" fill="#c3042e" stroke="#950022" stroke-width="0.45"/>
<circle cx="437.60" cy="220.80" r="2.1" fill="#c3042e" stroke="#950022" stroke-width="0.45"/>
<circle cx="437.60" cy="225.60" r="2.1" fill="#c3042e" stroke="#950022" stroke-width="0.45"/>
<circle cx="437.60" cy="230.40" r="2.1" fill="#c3042e" stroke="#950022" stroke-width="0.45"/>
<circle cx="437.60" cy="235.20" r="2.1" fill="#c3042e" stroke="#950022" stroke-width="0.45"/>
<circle cx="442.40" cy="168.00" r="2.1" fill="#c3042e" stroke="#950022" stroke-width="0.45"/>
<circle cx="442.40" cy="172.80" r="2.1" fill="#c3042e" stroke="#950022" stroke-width="0.45"/>
<circle cx="442.40" cy="177.60" r="2.1" fill="#c3042e" stroke="#950022" stroke-width="0.45"/>
<circle cx="442.40" cy="182.40" r="2.1" fill="#c3042e" stroke="#950022" stroke-width="0.45"/>
<circle cx="442.40" cy="187.20" r="2.1" fill="#c3042e" stroke="#950022" stroke-width="0.45"/>
<circle cx="442.40" cy="192.00" r="2.1" fill="#c3042e" stroke="#950022" stroke-width="0.45"/>
<circle cx="442.40" cy="196.80" r="2.1" fill="#c3042e" stroke="#950022" stroke-width="0.45"/>
<circle cx="442.40" cy="201.60" r="2.1" fill="#c3042e" stroke="#950022" stroke-width="0.45"/>
<circle cx="442.40" cy="206.40" r="2.1" fill="#c3042e" stroke="#950022" stroke-width="0.45"/>
<circle cx="447.90" cy="168.00" r="2.1" fill="#c3042e" stroke="#950022" stroke-width="0.45"/>
<circle cx="447.90" cy="172.80" r="2.1" fill="#c3042e" stroke="#950022" stroke-width="0.45"/>
<circle cx="447.90" cy="177.60" r="2.1" fill="#c3042e" stroke="#950022" stroke-width="0.45"/>
<circle cx="447.90" cy="182.40" r="2.1" fill="#c3042e" stroke="#950022" stroke-width="0.45"/>
<circle cx="447.90" cy="187.20" r="2.1" fill="#c3042e" stroke="#950022" stroke-width="0.45"/>
<circle cx="447.90" cy="192.00" r="2.1" fill="#c3042e" stroke="#950022" stroke-width="0.45"/>
<circle cx="447.90" cy="196.80" r="2.1" fill="#c3042e" stroke="#950022" stroke-width="0.45"/>
<circle cx="447.90" cy="201.60" r="2.1" fill="#c3042e" stroke="#950022" stroke-width="0.45"/>
<circle cx="447.90" cy="206.40" r="2.1" fill="#c3042e" stroke="#950022" stroke-width="0.45"/>
<circle cx="447.90" cy="211.20" r="2.1" fill="#c3042e" stroke="#950022" stroke-width="0.45"/>
<circle cx="447.90" cy="216.00" r="2.1" fill="#c3042e" stroke="#950022" stroke-width="0.45"/>
<circle cx="447.90" cy="220.80" r="2.1" fill="#c3042e" stroke="#950022" stroke-width="0.45"/>
<circle cx="447.90" cy="225.60" r="2.1" fill="#c3042e" stroke="#950022" stroke-width="0.45"/>
<circle cx="447.90" cy="230.40" r="2.1" fill="#c3042e" stroke="#950022" stroke-width="0.45"/>
<text transform="translate(423.67,252.00) rotate(-90)" text-anchor="start" font-size="5.6" fill="#2a2a2a">p.(Arg525His)</text>
<text transform="translate(453.87,252.50) rotate(-90)" text-anchor="start" font-size="5.6" fill="#2a2a2a">p.(Gly530Ser);</text>
<text transform="translate(461.17,252.50) rotate(-90)" text-anchor="start" font-size="5.6" fill="#2a2a2a">p.(Gly530Asp)</text>
<text x="6.8" y="274.4" font-size="7.3" fill="#151515" stroke="#151515" stroke-width="0.15">AML</text>
<rect x="16.5" y="376.5" width="496.0" height="13" fill="#fff" stroke="#3a3a3a" stroke-width="1"/>
<rect x="87" y="376.5" width="30.5" height="13" fill="#c4c4c4" stroke="#3a3a3a" stroke-width="1"/>
<text x="102.25" y="381.70" text-anchor="middle" font-size="5.6" fill="#2a2a2a">Coiled coil</text>
<text x="102.25" y="388.80" text-anchor="middle" font-size="5.6" fill="#2a2a2a">87-124</text>
<rect x="162.5" y="376.5" width="23.0" height="13" fill="#c4c4c4" stroke="#3a3a3a" stroke-width="1"/>
<text x="174.40" y="381.70" text-anchor="middle" font-size="5.6" fill="#2a2a2a">Q motif</text>
<text x="174.40" y="388.80" text-anchor="middle" font-size="5.6" fill="#2a2a2a">181-209</text>
<rect x="187.5" y="376.5" width="147.89999999999998" height="13" fill="#c4c4c4" stroke="#3a3a3a" stroke-width="1"/>
<text x="264.45" y="381.70" text-anchor="middle" font-size="5.6" fill="#2a2a2a">DEAD box</text>
<text x="264.45" y="388.80" text-anchor="middle" font-size="5.6" fill="#2a2a2a">212-396</text>
<rect x="344" y="376.5" width="126" height="13" fill="#c4c4c4" stroke="#3a3a3a" stroke-width="1"/>
<text x="407.00" y="381.70" text-anchor="middle" font-size="5.6" fill="#2a2a2a">Helicase</text>
<text x="407.00" y="388.80" text-anchor="middle" font-size="5.6" fill="#2a2a2a">407-567</text>
<rect x="479.5" y="376.5" width="12.100000000000023" height="13" fill="#bcbcbc" stroke="#3a3a3a" stroke-width="1"/>
<text transform="translate(484.50,388.00) rotate(-90)" font-size="4.6" fill="#333">ZnF</text>
<text transform="translate(489.10,388.00) rotate(-90)" font-size="2.6" fill="#444">580-622</text>
<line x1="149.6" y1="389.2" x2="264" y2="389.2" stroke="#b0104a" stroke-width="1.4"/>
<line x1="447" y1="389.2" x2="512.5" y2="389.2" stroke="#b0104a" stroke-width="1.4"/>
<polyline points="9.50,364.10 16.70,372.00 16.70,376.00" fill="none" stroke="#3a3a3a" stroke-width="1.0"/>
<polyline points="15.30,364.10 16.70,372.00 16.70,376.00" fill="none" stroke="#3a3a3a" stroke-width="1.0"/>
<polyline points="19.80,364.10 16.70,372.00 16.70,376.00" fill="none" stroke="#3a3a3a" stroke-width="1.0"/>
<polyline points="25.60,364.10 25.60,376.00" fill="none" stroke="#3a3a3a" stroke-width="1.0"/>
<polyline points="33.10,364.10 33.10,376.00" fill="none" stroke="#3a3a3a" stroke-width="1.0"/>
<polyline points="50.50,364.10 50.50,376.00" fill="none" stroke="#3a3a3a" stroke-width="1.0"/>
<polyline points="84.00,364.10 84.00,376.00" fill="none" stroke="#3a3a3a" stroke-width="1.0"/>
<polyline points="89.60,364.10 89.60,376.00" fill="none" stroke="#3a3a3a" stroke-width="1.0"/>
<polyline points="117.10,364.10 117.10,376.00" fill="none" stroke="#3a3a3a" stroke-width="1.0"/>
<polyline points="128.90,364.10 128.90,376.00" fill="none" stroke="#3a3a3a" stroke-width="1.0"/>
<polyline points="133.90,364.10 133.90,376.00" fill="none" stroke="#3a3a3a" stroke-width="1.0"/>
<polyline points="141.30,364.10 141.30,376.00" fill="none" stroke="#3a3a3a" stroke-width="1.0"/>
<polyline points="146.50,364.10 144.50,372.00 144.50,376.00" fill="none" stroke="#3a3a3a" stroke-width="1.0"/>
<polyline points="153.50,364.10 169.00,372.00 169.00,376.00" fill="none" stroke="#3a3a3a" stroke-width="1.0"/>
<polyline points="158.50,364.10 170.00,372.00 170.00,376.00" fill="none" stroke="#3a3a3a" stroke-width="1.0"/>
<polyline points="163.70,364.10 171.00,372.00 171.00,376.00" fill="none" stroke="#3a3a3a" stroke-width="1.0"/>
<polyline points="168.70,364.10 171.50,372.00 171.50,376.00" fill="none" stroke="#3a3a3a" stroke-width="1.0"/>
<polyline points="173.70,364.10 172.50,372.00 172.50,376.00" fill="none" stroke="#3a3a3a" stroke-width="1.0"/>
<polyline points="179.00,364.10 174.50,372.00 174.50,376.00" fill="none" stroke="#3a3a3a" stroke-width="1.0"/>
<polyline points="184.00,364.10 184.00,376.00" fill="none" stroke="#3a3a3a" stroke-width="1.0"/>
<polyline points="189.40,364.10 189.40,376.00" fill="none" stroke="#3a3a3a" stroke-width="1.0"/>
<polyline points="194.10,364.10 190.50,372.00 190.50,376.00" fill="none" stroke="#3a3a3a" stroke-width="1.0"/>
<polyline points="199.40,364.10 191.50,372.00 191.50,376.00" fill="none" stroke="#3a3a3a" stroke-width="1.0"/>
<polyline points="204.10,364.10 192.50,372.00 192.50,376.00" fill="none" stroke="#3a3a3a" stroke-width="1.0"/>
<polyline points="209.70,364.10 208.00,372.00 208.00,376.00" fill="none" stroke="#3a3a3a" stroke-width="1.0"/>
<polyline points="227.80,364.10 227.80,376.00" fill="none" stroke="#3a3a3a" stroke-width="1.0"/>
<polyline points="252.20,364.10 252.20,376.00" fill="none" stroke="#3a3a3a" stroke-width="1.0"/>
<polyline points="258.80,364.10 258.80,376.00" fill="none" stroke="#3a3a3a" stroke-width="1.0"/>
<polyline points="265.30,364.10 265.30,376.00" fill="none" stroke="#3a3a3a" stroke-width="1.0"/>
<polyline points="273.40,364.10 273.40,376.00" fill="none" stroke="#3a3a3a" stroke-width="1.0"/>
<polyline points="280.90,364.10 280.90,376.00" fill="none" stroke="#3a3a3a" stroke-width="1.0"/>
<polyline points="286.30,364.10 288.20,372.00 288.20,376.00" fill="none" stroke="#3a3a3a" stroke-width="1.0"/>
<polyline points="291.70,364.10 288.20,372.00 288.20,376.00" fill="none" stroke="#3a3a3a" stroke-width="1.0"/>
<polyline points="303.10,364.10 306.80,372.00 306.80,376.00" fill="none" stroke="#3a3a3a" stroke-width="1.0"/>
<polyline points="308.50,364.10 307.60,372.00 307.60,376.00" fill="none" stroke="#3a3a3a" stroke-width="1.0"/>
<polyline points="313.90,364.10 308.40,372.00 308.40,376.00" fill="none" stroke="#3a3a3a" stroke-width="1.0"/>
<polyline points="327.90,364.10 327.90,376.00" fill="none" stroke="#3a3a3a" stroke-width="1.0"/>
<polyline points="333.10,364.10 333.10,376.00" fill="none" stroke="#3a3a3a" stroke-width="1.0"/>
<polyline points="372.00,364.10 372.00,376.00" fill="none" stroke="#3a3a3a" stroke-width="1.0"/>
<polyline points="386.40,364.10 389.00,372.00 389.00,376.00" fill="none" stroke="#3a3a3a" stroke-width="1.0"/>
<polyline points="392.10,364.10 389.00,372.00 389.00,376.00" fill="none" stroke="#3a3a3a" stroke-width="1.0"/>
<polyline points="399.10,364.10 399.10,376.00" fill="none" stroke="#3a3a3a" stroke-width="1.0"/>
<polyline points="407.80,364.10 408.50,372.00 408.50,376.00" fill="none" stroke="#3a3a3a" stroke-width="1.0"/>
<polyline points="413.40,364.10 409.50,372.00 409.50,376.00" fill="none" stroke="#3a3a3a" stroke-width="1.0"/>
<polyline points="438.70,364.10 438.70,376.00" fill="none" stroke="#3a3a3a" stroke-width="1.0"/>
<polyline points="446.80,364.10 446.80,376.00" fill="none" stroke="#3a3a3a" stroke-width="1.0"/>
<polyline points="464.70,364.10 464.70,376.00" fill="none" stroke="#3a3a3a" stroke-width="1.0"/>
<circle cx="9.50" cy="364.10" r="2.1" fill="#3ea5d4" stroke="#2a82ad" stroke-width="0.45"/>
<circle cx="15.30" cy="364.10" r="2.1" fill="#0b6142" stroke="#07452e" stroke-width="0.45"/>
<circle cx="15.30" cy="359.30" r="2.1" fill="#0b6142" stroke="#07452e" stroke-width="0.45"/>
<circle cx="15.30" cy="354.50" r="2.1" fill="#0b6142" stroke="#07452e" stroke-width="0.45"/>
<circle cx="15.30" cy="349.70" r="2.1" fill="#0b6142" stroke="#07452e" stroke-width="0.45"/>
<circle cx="15.30" cy="344.90" r="2.1" fill="#0b6142" stroke="#07452e" stroke-width="0.45"/>
<circle cx="15.30" cy="340.10" r="2.1" fill="#0b6142" stroke="#07452e" stroke-width="0.45"/>
<circle cx="15.30" cy="335.30" r="2.1" fill="#0b6142" stroke="#07452e" stroke-width="0.45"/>
<circle cx="15.30" cy="330.50" r="2.1" fill="#0b6142" stroke="#07452e" stroke-width="0.45"/>
<circle cx="15.30" cy="325.70" r="2.1" fill="#0b6142" stroke="#07452e" stroke-width="0.45"/>
<circle cx="15.30" cy="320.90" r="2.1" fill="#0b6142" stroke="#07452e" stroke-width="0.45"/>
<circle cx="15.30" cy="316.10" r="2.1" fill="#0b6142" stroke="#07452e" stroke-width="0.45"/>
<circle cx="15.30" cy="311.30" r="2.1" fill="#0b6142" stroke="#07452e" stroke-width="0.45"/>
<circle cx="15.30" cy="306.50" r="2.1" fill="#0b6142" stroke="#07452e" stroke-width="0.45"/>
<circle cx="15.30" cy="301.70" r="2.1" fill="#0b6142" stroke="#07452e" stroke-width="0.45"/>
<circle cx="15.30" cy="296.90" r="2.1" fill="#0b6142" stroke="#07452e" stroke-width="0.45"/>
<circle cx="19.80" cy="364.10" r="2.1" fill="#0b6142" stroke="#07452e" stroke-width="0.45"/>
<circle cx="19.80" cy="359.30" r="2.1" fill="#0b6142" stroke="#07452e" stroke-width="0.45"/>
<circle cx="19.80" cy="354.50" r="2.1" fill="#0b6142" stroke="#07452e" stroke-width="0.45"/>
<circle cx="19.80" cy="349.70" r="2.1" fill="#0b6142" stroke="#07452e" stroke-width="0.45"/>
<circle cx="19.80" cy="344.90" r="2.1" fill="#0b6142" stroke="#07452e" stroke-width="0.45"/>
<circle cx="19.80" cy="340.10" r="2.1" fill="#0b6142" stroke="#07452e" stroke-width="0.45"/>
<circle cx="19.80" cy="335.30" r="2.1" fill="#0b6142" stroke="#07452e" stroke-width="0.45"/>
<circle cx="19.80" cy="330.50" r="2.1" fill="#0b6142" stroke="#07452e" stroke-width="0.45"/>
<circle cx="19.80" cy="325.70" r="2.1" fill="#0b6142" stroke="#07452e" stroke-width="0.45"/>
<circle cx="19.80" cy="320.90" r="2.1" fill="#0b6142" stroke="#07452e" stroke-width="0.45"/>
<circle cx="19.80" cy="316.10" r="2.1" fill="#0b6142" stroke="#07452e" stroke-width="0.45"/>
<circle cx="19.80" cy="311.30" r="2.1" fill="#0b6142" stroke="#07452e" stroke-width="0.45"/>
<circle cx="19.80" cy="306.50" r="2.1" fill="#0b6142" stroke="#07452e" stroke-width="0.45"/>
<circle cx="19.80" cy="301.70" r="2.1" fill="#0b6142" stroke="#07452e" stroke-width="0.45"/>
<circle cx="19.80" cy="296.90" r="2.1" fill="#0b6142" stroke="#07452e" stroke-width="0.45"/>
<circle cx="25.60" cy="364.10" r="2.1" fill="#3ea5d4" stroke="#2a82ad" stroke-width="0.45"/>
<circle cx="33.10" cy="364.10" r="2.1" fill="#0b6142" stroke="#07452e" stroke-width="0.45"/>
<circle cx="50.50" cy="364.10" r="2.1" fill="#0b6142" stroke="#07452e" stroke-width="0.45"/>
<circle cx="50.50" cy="359.30" r="2.1" fill="#0b6142" stroke="#07452e" stroke-width="0.45"/>
<circle cx="50.50" cy="354.50" r="2.1" fill="#0b6142" stroke="#07452e" stroke-width="0.45"/>
<circle cx="50.50" cy="349.70" r="2.1" fill="#0b6142" stroke="#07452e" stroke-width="0.45"/>
<circle cx="50.50" cy="344.90" r="2.1" fill="#0b6142" stroke="#07452e" stroke-width="0.45"/>
<circle cx="50.50" cy="340.10" r="2.1" fill="#0b6142" stroke="#07452e" stroke-width="0.45"/>
<circle cx="50.50" cy="335.30" r="2.1" fill="#0b6142" stroke="#07452e" stroke-width="0.45"/>
<circle cx="50.50" cy="330.50" r="2.1" fill="#0b6142" stroke="#07452e" stroke-width="0.45"/>
<circle cx="50.50" cy="325.70" r="2.1" fill="#0b6142" stroke="#07452e" stroke-width="0.45"/>
<circle cx="50.50" cy="320.90" r="2.1" fill="#0b6142" stroke="#07452e" stroke-width="0.45"/>
<circle cx="50.50" cy="316.10" r="2.1" fill="#0b6142" stroke="#07452e" stroke-width="0.45"/>
<circle cx="50.50" cy="311.30" r="2.1" fill="#3ea5d4" stroke="#2a82ad" stroke-width="0.45"/>
<circle cx="84.00" cy="364.10" r="2.1" fill="#44a544" stroke="#2a7a2a" stroke-width="0.45"/>
<circle cx="89.60" cy="364.10" r="2.1" fill="#0b6142" stroke="#07452e" stroke-width="0.45"/>
<circle cx="117.10" cy="364.10" r="2.1" fill="#0b6142" stroke="#07452e" stroke-width="0.45"/>
<circle cx="128.90" cy="364.10" r="2.1" fill="#0b6142" stroke="#07452e" stroke-width="0.45"/>
<circle cx="128.90" cy="359.30" r="2.1" fill="#0b6142" stroke="#07452e" stroke-width="0.45"/>
<circle cx="128.90" cy="354.50" r="2.1" fill="#0b6142" stroke="#07452e" stroke-width="0.45"/>
<circle cx="128.90" cy="349.70" r="2.1" fill="#0b6142" stroke="#07452e" stroke-width="0.45"/>
<circle cx="128.90" cy="344.90" r="2.1" fill="#0b6142" stroke="#07452e" stroke-width="0.45"/>
<circle cx="128.90" cy="340.10" r="2.1" fill="#0b6142" stroke="#07452e" stroke-width="0.45"/>
<circle cx="128.90" cy="335.30" r="2.1" fill="#0b6142" stroke="#07452e" stroke-width="0.45"/>
<circle cx="128.90" cy="330.50" r="2.1" fill="#0b6142" stroke="#07452e" stroke-width="0.45"/>
<circle cx="128.90" cy="325.70" r="2.1" fill="#0b6142" stroke="#07452e" stroke-width="0.45"/>
<circle cx="128.90" cy="320.90" r="2.1" fill="#0b6142" stroke="#07452e" stroke-width="0.45"/>
<circle cx="133.90" cy="364.10" r="2.1" fill="#0b6142" stroke="#07452e" stroke-width="0.45"/>
<circle cx="133.90" cy="359.30" r="2.1" fill="#0b6142" stroke="#07452e" stroke-width="0.45"/>
<circle cx="141.30" cy="364.10" r="2.1" fill="#3ea5d4" stroke="#2a82ad" stroke-width="0.45"/>
<circle cx="141.30" cy="359.30" r="2.1" fill="#3ea5d4" stroke="#2a82ad" stroke-width="0.45"/>
<circle cx="146.50" cy="364.10" r="2.1" fill="#0b6142" stroke="#07452e" stroke-width="0.45"/>
<circle cx="153.50" cy="364.10" r="2.1" fill="#0b6142" stroke="#07452e" stroke-width="0.45"/>
<circle cx="158.50" cy="364.10" r="2.1" fill="#0b6142" stroke="#07452e" stroke-width="0.45"/>
<circle cx="158.50" cy="359.30" r="2.1" fill="#0b6142" stroke="#07452e" stroke-width="0.45"/>
<circle cx="158.50" cy="354.50" r="2.1" fill="#3ea5d4" stroke="#2a82ad" stroke-width="0.45"/>
<circle cx="163.70" cy="364.10" r="2.1" fill="#0b6142" stroke="#07452e" stroke-width="0.45"/>
<circle cx="168.70" cy="364.10" r="2.1" fill="#44a544" stroke="#2a7a2a" stroke-width="0.45"/>
<circle cx="173.70" cy="364.10" r="2.1" fill="#44a544" stroke="#2a7a2a" stroke-width="0.45"/>
<circle cx="179.00" cy="364.10" r="2.1" fill="#44a544" stroke="#2a7a2a" stroke-width="0.45"/>
<circle cx="179.00" cy="359.30" r="2.1" fill="#44a544" stroke="#2a7a2a" stroke-width="0.45"/>
<circle cx="179.00" cy="354.50" r="2.1" fill="#44a544" stroke="#2a7a2a" stroke-width="0.45"/>
<circle cx="179.00" cy="349.70" r="2.1" fill="#44a544" stroke="#2a7a2a" stroke-width="0.45"/>
<circle cx="179.00" cy="344.90" r="2.1" fill="#44a544" stroke="#2a7a2a" stroke-width="0.45"/>
<circle cx="184.00" cy="364.10" r="2.1" fill="#3ea5d4" stroke="#2a82ad" stroke-width="0.45"/>
<circle cx="184.00" cy="359.30" r="2.1" fill="#3ea5d4" stroke="#2a82ad" stroke-width="0.45"/>
<circle cx="184.00" cy="354.50" r="2.1" fill="#3ea5d4" stroke="#2a82ad" stroke-width="0.45"/>
<circle cx="184.00" cy="349.70" r="2.1" fill="#3ea5d4" stroke="#2a82ad" stroke-width="0.45"/>
<circle cx="189.40" cy="364.10" r="2.1" fill="#44a544" stroke="#2a7a2a" stroke-width="0.45"/>
<circle cx="189.40" cy="359.30" r="2.1" fill="#44a544" stroke="#2a7a2a" stroke-width="0.45"/>
<circle cx="194.10" cy="364.10" r="2.1" fill="#44a544" stroke="#2a7a2a" stroke-width="0.45"/>
<circle cx="199.40" cy="364.10" r="2.1" fill="#3ea5d4" stroke="#2a82ad" stroke-width="0.45"/>
<circle cx="204.10" cy="364.10" r="2.1" fill="#0b6142" stroke="#07452e" stroke-width="0.45"/>
<circle cx="204.10" cy="359.30" r="2.1" fill="#0b6142" stroke="#07452e" stroke-width="0.45"/>
<circle cx="204.10" cy="354.50" r="2.1" fill="#0b6142" stroke="#07452e" stroke-width="0.45"/>
<circle cx="204.10" cy="349.70" r="2.1" fill="#0b6142" stroke="#07452e" stroke-width="0.45"/>
<circle cx="204.10" cy="344.90" r="2.1" fill="#0b6142" stroke="#07452e" stroke-width="0.45"/>
<circle cx="204.10" cy="340.10" r="2.1" fill="#0b6142" stroke="#07452e" stroke-width="0.45"/>
<circle cx="209.70" cy="364.10" r="2.1" fill="#0b6142" stroke="#07452e" stroke-width="0.45"/>
<circle cx="227.80" cy="364.10" r="2.1" fill="#0b6142" stroke="#07452e" stroke-width="0.45"/>
<circle cx="227.80" cy="359.30" r="2.1" fill="#0b6142" stroke="#07452e" stroke-width="0.45"/>
<circle cx="252.20" cy="364.10" r="2.1" fill="#44a544" stroke="#2a7a2a" stroke-width="0.45"/>
<circle cx="258.80" cy="364.10" r="2.1" fill="#44a544" stroke="#2a7a2a" stroke-width="0.45"/>
<circle cx="265.30" cy="364.10" r="2.1" fill="#0b6142" stroke="#07452e" stroke-width="0.45"/>
<circle cx="265.30" cy="359.30" r="2.1" fill="#0b6142" stroke="#07452e" stroke-width="0.45"/>
<circle cx="273.40" cy="364.10" r="2.1" fill="#0b6142" stroke="#07452e" stroke-width="0.45"/>
<circle cx="273.40" cy="359.30" r="2.1" fill="#44a544" stroke="#2a7a2a" stroke-width="0.45"/>
<circle cx="280.90" cy="364.10" r="2.1" fill="#0b6142" stroke="#07452e" stroke-width="0.45"/>
<circle cx="280.90" cy="359.30" r="2.1" fill="#0b6142" stroke="#07452e" stroke-width="0.45"/>
<circle cx="280.90" cy="354.50" r="2.1" fill="#0b6142" stroke="#07452e" stroke-width="0.45"/>
<circle cx="280.90" cy="349.70" r="2.1" fill="#0b6142" stroke="#07452e" stroke-width="0.45"/>
<circle cx="280.90" cy="344.90" r="2.1" fill="#0b6142" stroke="#07452e" stroke-width="0.45"/>
<circle cx="286.30" cy="364.10" r="2.1" fill="#3ea5d4" stroke="#2a82ad" stroke-width="0.45"/>
<circle cx="286.30" cy="359.30" r="2.1" fill="#0b6142" stroke="#07452e" stroke-width="0.45"/>
<circle cx="291.70" cy="364.10" r="2.1" fill="#3ea5d4" stroke="#2a82ad" stroke-width="0.45"/>
<circle cx="303.10" cy="364.10" r="2.1" fill="#0b6142" stroke="#07452e" stroke-width="0.45"/>
<circle cx="308.50" cy="364.10" r="2.1" fill="#0b6142" stroke="#07452e" stroke-width="0.45"/>
<circle cx="313.90" cy="364.10" r="2.1" fill="#0b6142" stroke="#07452e" stroke-width="0.45"/>
<circle cx="327.90" cy="364.10" r="2.1" fill="#0b6142" stroke="#07452e" stroke-width="0.45"/>
<circle cx="333.10" cy="364.10" r="2.1" fill="#0b6142" stroke="#07452e" stroke-width="0.45"/>
<circle cx="372.00" cy="364.10" r="2.1" fill="#0b6142" stroke="#07452e" stroke-width="0.45"/>
<circle cx="372.00" cy="359.30" r="2.1" fill="#0b6142" stroke="#07452e" stroke-width="0.45"/>
<circle cx="386.40" cy="364.10" r="2.1" fill="#0b6142" stroke="#07452e" stroke-width="0.45"/>
<circle cx="392.10" cy="364.10" r="2.1" fill="#0b6142" stroke="#07452e" stroke-width="0.45"/>
<circle cx="399.10" cy="364.10" r="2.1" fill="#44a544" stroke="#2a7a2a" stroke-width="0.45"/>
<circle cx="407.80" cy="364.10" r="2.1" fill="#44a544" stroke="#2a7a2a" stroke-width="0.45"/>
<circle cx="413.40" cy="364.10" r="2.1" fill="#0b6142" stroke="#07452e" stroke-width="0.45"/>
<circle cx="413.40" cy="359.30" r="2.1" fill="#0b6142" stroke="#07452e" stroke-width="0.45"/>
<circle cx="438.70" cy="364.10" r="2.1" fill="#0b6142" stroke="#07452e" stroke-width="0.45"/>
<circle cx="446.80" cy="364.10" r="2.1" fill="#0b6142" stroke="#07452e" stroke-width="0.45"/>
<circle cx="464.70" cy="364.10" r="2.1" fill="#44a544" stroke="#2a7a2a" stroke-width="0.45"/>
<text transform="translate(11.07,360.40) rotate(-90)" text-anchor="start" font-size="5.6" fill="#2a2a2a">c.2T&gt;C/ p.(Met1?)</text>
<text transform="translate(26.97,306.00) rotate(-90)" text-anchor="start" font-size="5.6" fill="#2a2a2a">c.3G&gt;A/</text>
<text transform="translate(34.97,305.60) rotate(-90)" text-anchor="start" font-size="5.6" fill="#2a2a2a">p.(Met1?)</text>
<text transform="translate(27.17,360.40) rotate(-90)" text-anchor="start" font-size="5.6" fill="#2a2a2a">c.27+1G&gt;A</text>
<text transform="translate(34.67,360.40) rotate(-90)" text-anchor="start" font-size="5.6" fill="#2a2a2a">p.(Gly19*)</text>
<text transform="translate(52.07,307.60) rotate(-90)" text-anchor="start" font-size="5.6" fill="#2a2a2a">p.(Gln41*)</text>
<text transform="translate(85.57,360.40) rotate(-90)" text-anchor="start" font-size="5.6" fill="#2a2a2a">p.(Ser83Phe)</text>
<text transform="translate(91.17,360.40) rotate(-90)" text-anchor="start" font-size="5.6" fill="#2a2a2a">p.(Gln90*)</text>
<text transform="translate(118.67,360.40) rotate(-90)" text-anchor="start" font-size="5.6" fill="#2a2a2a">p.(Arg124*)</text>
<text transform="translate(125.77,326.20) rotate(-90)" text-anchor="start" font-size="5.6" fill="#2a2a2a">p.(Asp140Glyfs*2)</text>
<text transform="translate(135.47,355.60) rotate(-90)" text-anchor="start" font-size="5.6" fill="#2a2a2a">c.435-2_435-1delinsCA</text>
<text transform="translate(142.87,355.60) rotate(-90)" text-anchor="start" font-size="5.6" fill="#2a2a2a">p.(Met155Ile)</text>
<text transform="translate(148.07,360.40) rotate(-90)" text-anchor="start" font-size="5.6" fill="#2a2a2a">p.(Arg159*)</text>
<text transform="translate(155.07,360.40) rotate(-90)" text-anchor="start" font-size="5.6" fill="#2a2a2a">p.(Lys187*)</text>
<text transform="translate(160.07,350.80) rotate(-90)" text-anchor="start" font-size="5.6" fill="#2a2a2a">p.(Ala191Thr)</text>
<text transform="translate(165.27,360.40) rotate(-90)" text-anchor="start" font-size="5.6" fill="#2a2a2a">c.571+1G&gt;A</text>
<text transform="translate(170.27,360.40) rotate(-90)" text-anchor="start" font-size="5.6" fill="#2a2a2a">c.571+3A&gt;G</text>
<text transform="translate(175.27,360.40) rotate(-90)" text-anchor="start" font-size="5.6" fill="#2a2a2a">p.(Leu193Val)</text>
<text transform="translate(180.57,341.20) rotate(-90)" text-anchor="start" font-size="5.6" fill="#2a2a2a">p.(Cys197Tyr)</text>
<text transform="translate(185.57,346.00) rotate(-90)" text-anchor="start" font-size="5.6" fill="#2a2a2a">p.(Gln208Glu)</text>
<text transform="translate(190.97,355.60) rotate(-90)" text-anchor="start" font-size="5.6" fill="#2a2a2a">p.(Ile215Leu)</text>
<text transform="translate(195.67,360.40) rotate(-90)" text-anchor="start" font-size="5.6" fill="#2a2a2a">c.644+5G&gt;T</text>
<text transform="translate(200.97,360.40) rotate(-90)" text-anchor="start" font-size="5.6" fill="#2a2a2a">p.(Ser217Pro)</text>
<text transform="translate(205.67,336.40) rotate(-90)" text-anchor="start" font-size="5.6" fill="#2a2a2a">p.(Gly218Asp)</text>
<text transform="translate(211.27,360.40) rotate(-90)" text-anchor="start" font-size="5.6" fill="#2a2a2a">p.(Pro225Arg)</text>
<text transform="translate(229.37,355.60) rotate(-90)" text-anchor="start" font-size="5.6" fill="#2a2a2a">c.799-1G&gt;A; c.799-1G&gt;T</text>
<text transform="translate(253.77,360.40) rotate(-90)" text-anchor="start" font-size="5.6" fill="#2a2a2a">p.(Ala290Thr)</text>
<text transform="translate(260.37,360.40) rotate(-90)" text-anchor="start" font-size="5.6" fill="#2a2a2a">p.(Val305Met)</text>
<text transform="translate(266.87,355.60) rotate(-90)" text-anchor="start" font-size="5.6" fill="#2a2a2a">p.(Arg311*)</text>
<text transform="translate(274.97,355.60) rotate(-90)" text-anchor="start" font-size="5.6" fill="#2a2a2a">p.(Pro321Leu); p.(Pro321Phe)</text>
<text transform="translate(282.47,341.20) rotate(-90)" text-anchor="start" font-size="5.6" fill="#2a2a2a">p.(Lys331del)</text>
<text transform="translate(287.87,355.60) rotate(-90)" text-anchor="start" font-size="5.6" fill="#2a2a2a">p.(Arg339His); p.(Arg339Pro)</text>
<text transform="translate(293.27,360.40) rotate(-90)" text-anchor="start" font-size="5.6" fill="#2a2a2a">p.(Tyr340Asn)</text>
<text transform="translate(304.67,360.40) rotate(-90)" text-anchor="start" font-size="5.6" fill="#2a2a2a">c.1099-3_1099-2del</text>
<text transform="translate(310.07,360.40) rotate(-90)" text-anchor="start" font-size="5.6" fill="#2a2a2a">c.1099-3C&gt;G</text>
<text transform="translate(315.47,360.40) rotate(-90)" text-anchor="start" font-size="5.6" fill="#2a2a2a">p.(Arg369Gly)</text>
<text transform="translate(329.47,360.40) rotate(-90)" text-anchor="start" font-size="5.6" fill="#2a2a2a">p.(Leu390Pro)</text>
<text transform="translate(334.67,360.40) rotate(-90)" text-anchor="start" font-size="5.6" fill="#2a2a2a">p.(Ile396Thr)</text>
<text transform="translate(373.57,355.60) rotate(-90)" text-anchor="start" font-size="5.6" fill="#2a2a2a">p.(Val445del)</text>
<text transform="translate(387.97,360.40) rotate(-90)" text-anchor="start" font-size="5.6" fill="#2a2a2a">p.(Asp457Asn)</text>
<text transform="translate(393.67,360.40) rotate(-90)" text-anchor="start" font-size="5.6" fill="#2a2a2a">c.1490-2A&gt;C</text>
<text transform="translate(400.67,360.40) rotate(-90)" text-anchor="start" font-size="5.6" fill="#2a2a2a">p.(Arg479Gln)</text>
<text transform="translate(409.37,360.40) rotate(-90)" text-anchor="start" font-size="5.6" fill="#2a2a2a">p.(Val491Ile)</text>
<text transform="translate(414.97,355.60) rotate(-90)" text-anchor="start" font-size="5.6" fill="#2a2a2a">p.(Ala492Glyfs*17)</text>
<text transform="translate(440.27,360.40) rotate(-90)" text-anchor="start" font-size="5.6" fill="#2a2a2a">p.(Thr529Argfs*12)</text>
<text transform="translate(448.37,360.40) rotate(-90)" text-anchor="start" font-size="5.6" fill="#2a2a2a">c.1621+5G&gt;A</text>
<text transform="translate(466.27,360.40) rotate(-90)" text-anchor="start" font-size="5.6" fill="#2a2a2a">p.(Val562Met)</text>
<polyline points="26.80,390.00 26.80,401.60" fill="none" stroke="#3a3a3a" stroke-width="1.0"/>
<polyline points="118.00,390.00 118.00,394.00 115.50,401.60" fill="none" stroke="#3a3a3a" stroke-width="1.0"/>
<polyline points="121.00,390.00 121.00,401.60" fill="none" stroke="#3a3a3a" stroke-width="1.0"/>
<polyline points="183.30,390.00 183.30,401.60" fill="none" stroke="#3a3a3a" stroke-width="1.0"/>
<polyline points="198.80,390.00 198.80,401.60" fill="none" stroke="#3a3a3a" stroke-width="1.0"/>
<polyline points="227.50,390.00 227.50,401.60" fill="none" stroke="#3a3a3a" stroke-width="1.0"/>
<polyline points="275.00,390.00 275.00,401.60" fill="none" stroke="#3a3a3a" stroke-width="1.0"/>
<polyline points="292.80,390.00 292.80,401.60" fill="none" stroke="#3a3a3a" stroke-width="1.0"/>
<polyline points="295.20,390.00 295.20,394.00 297.80,401.60" fill="none" stroke="#3a3a3a" stroke-width="1.0"/>
<polyline points="316.30,390.00 316.30,401.60" fill="none" stroke="#3a3a3a" stroke-width="1.0"/>
<polyline points="318.60,390.00 318.60,394.00 322.20,401.60" fill="none" stroke="#3a3a3a" stroke-width="1.0"/>
<polyline points="356.30,390.00 356.30,401.60" fill="none" stroke="#3a3a3a" stroke-width="1.0"/>
<polyline points="371.20,390.00 371.20,401.60" fill="none" stroke="#3a3a3a" stroke-width="1.0"/>
<polyline points="376.20,390.00 376.20,401.60" fill="none" stroke="#3a3a3a" stroke-width="1.0"/>
<polyline points="405.80,390.00 405.80,401.60" fill="none" stroke="#3a3a3a" stroke-width="1.0"/>
<polyline points="410.80,390.00 410.80,401.60" fill="none" stroke="#3a3a3a" stroke-width="1.0"/>
<polyline points="412.50,390.00 412.50,394.00 416.00,401.60" fill="none" stroke="#3a3a3a" stroke-width="1.0"/>
<polyline points="429.00,390.00 429.00,394.00 422.50,401.60" fill="none" stroke="#3a3a3a" stroke-width="1.0"/>
<circle cx="26.80" cy="401.60" r="2.1" fill="#c3042e" stroke="#950022" stroke-width="0.45"/>
<circle cx="115.50" cy="401.60" r="2.1" fill="#c3042e" stroke="#950022" stroke-width="0.45"/>
<circle cx="121.00" cy="401.60" r="2.1" fill="#c3042e" stroke="#950022" stroke-width="0.45"/>
<circle cx="183.30" cy="401.60" r="2.1" fill="#c3042e" stroke="#950022" stroke-width="0.45"/>
<circle cx="183.30" cy="406.40" r="2.1" fill="#c3042e" stroke="#950022" stroke-width="0.45"/>
<circle cx="198.80" cy="401.60" r="2.1" fill="#c3042e" stroke="#950022" stroke-width="0.45"/>
<circle cx="227.50" cy="401.60" r="2.1" fill="#c3042e" stroke="#950022" stroke-width="0.45"/>
<circle cx="275.00" cy="401.60" r="2.1" fill="#c3042e" stroke="#950022" stroke-width="0.45"/>
<circle cx="292.80" cy="401.60" r="2.1" fill="#c3042e" stroke="#950022" stroke-width="0.45"/>
<circle cx="292.80" cy="406.40" r="2.1" fill="#c3042e" stroke="#950022" stroke-width="0.45"/>
<circle cx="292.80" cy="411.20" r="2.1" fill="#c3042e" stroke="#950022" stroke-width="0.45"/>
<circle cx="292.80" cy="416.00" r="2.1" fill="#c3042e" stroke="#950022" stroke-width="0.45"/>
<circle cx="297.80" cy="401.60" r="2.1" fill="#c3042e" stroke="#950022" stroke-width="0.45"/>
<circle cx="316.30" cy="401.60" r="2.1" fill="#c3042e" stroke="#950022" stroke-width="0.45"/>
<circle cx="316.30" cy="406.40" r="2.1" fill="#c3042e" stroke="#950022" stroke-width="0.45"/>
<circle cx="322.20" cy="401.60" r="2.1" fill="#c3042e" stroke="#950022" stroke-width="0.45"/>
<circle cx="322.20" cy="406.40" r="2.1" fill="#c3042e" stroke="#950022" stroke-width="0.45"/>
<circle cx="356.30" cy="401.60" r="2.1" fill="#c3042e" stroke="#950022" stroke-width="0.45"/>
<circle cx="371.20" cy="401.60" r="2.1" fill="#c3042e" stroke="#950022" stroke-width="0.45"/>
<circle cx="376.20" cy="401.60" r="2.1" fill="#c3042e" stroke="#950022" stroke-width="0.45"/>
<circle cx="405.80" cy="401.60" r="2.1" fill="#c3042e" stroke="#950022" stroke-width="0.45"/>
<circle cx="410.80" cy="401.60" r="2.1" fill="#c3042e" stroke="#950022" stroke-width="0.45"/>
<circle cx="410.80" cy="406.40" r="2.1" fill="#c3042e" stroke="#950022" stroke-width="0.45"/>
<circle cx="416.00" cy="401.60" r="2.1" fill="#c3042e" stroke="#950022" stroke-width="0.45"/>
<circle cx="422.50" cy="401.60" r="2.1" fill="#c3042e" stroke="#950022" stroke-width="0.45"/>
<text transform="translate(28.37,405.70) rotate(-90)" text-anchor="end" font-size="5.6" fill="#2a2a2a">c.28-2A&gt;G</text>
<text transform="translate(117.07,405.70) rotate(-90)" text-anchor="end" font-size="5.6" fill="#2a2a2a">c.374-1G&gt;T</text>
<text transform="translate(122.57,405.70) rotate(-90)" text-anchor="end" font-size="5.6" fill="#2a2a2a">p.(Val129Met)</text>
<text transform="translate(184.87,410.50) rotate(-90)" text-anchor="end" font-size="5.6" fill="#2a2a2a">p.(Gln208*); p.(Gln208Glu)</text>
<text transform="translate(200.37,405.70) rotate(-90)" text-anchor="end" font-size="5.6" fill="#2a2a2a">p.(Gly228Cys)</text>
<text transform="translate(229.07,405.70) rotate(-90)" text-anchor="end" font-size="5.6" fill="#2a2a2a">p.(Cys264Tyr)</text>
<text transform="translate(276.57,405.70) rotate(-90)" text-anchor="end" font-size="5.6" fill="#2a2a2a">p.(Arg323Cys)</text>
<text transform="translate(289.17,420.00) rotate(-90)" text-anchor="end" font-size="5.6" fill="#2a2a2a">p.(Glu345Asp);</text>
<text transform="translate(295.17,420.00) rotate(-90)" text-anchor="end" font-size="5.6" fill="#2a2a2a">p.(Glu345Lys)</text>
<text transform="translate(300.57,405.60) rotate(-90)" text-anchor="end" font-size="5.6" fill="#2a2a2a">p.(Ala346Pro)</text>
<text transform="translate(318.57,410.50) rotate(-90)" text-anchor="end" font-size="5.6" fill="#2a2a2a">p.(Ala376Thr); p.(Ala376Val)</text>
<text transform="translate(324.47,410.50) rotate(-90)" text-anchor="end" font-size="5.6" fill="#2a2a2a">p.(Met378Val); p.(Met378Ile)</text>
<text transform="translate(357.87,405.70) rotate(-90)" text-anchor="end" font-size="5.6" fill="#2a2a2a">p.(Glu426*)</text>
<text transform="translate(372.77,405.70) rotate(-90)" text-anchor="end" font-size="5.6" fill="#2a2a2a">p.(Val445_Asp446del)</text>
<text transform="translate(377.77,405.70) rotate(-90)" text-anchor="end" font-size="5.6" fill="#2a2a2a">p.(Tyr451Thrfs*10)</text>
<text transform="translate(407.37,405.70) rotate(-90)" text-anchor="end" font-size="5.6" fill="#2a2a2a">p.(Ala488Val)</text>
<text transform="translate(412.37,410.50) rotate(-90)" text-anchor="end" font-size="5.6" fill="#2a2a2a">p.(Tyr494Cys)</text>
<text transform="translate(417.57,405.70) rotate(-90)" text-anchor="end" font-size="5.6" fill="#2a2a2a">p.(Leu498Gln)</text>
<text transform="translate(424.07,405.70) rotate(-90)" text-anchor="end" font-size="5.6" fill="#2a2a2a">p.(Gly517Glu)</text>
<polyline points="436.40,390.00 436.40,394.00 437.60,399.00" fill="none" stroke="#3a3a3a" stroke-width="1.0"/>
<polyline points="439.60,390.00 439.60,394.00 457.00,399.00" fill="none" stroke="#3a3a3a" stroke-width="1.0"/>
<circle cx="427.80" cy="401.60" r="2.1" fill="#c3042e" stroke="#950022" stroke-width="0.45"/>
<circle cx="427.80" cy="406.40" r="2.1" fill="#c3042e" stroke="#950022" stroke-width="0.45"/>
<circle cx="427.80" cy="411.20" r="2.1" fill="#c3042e" stroke="#950022" stroke-width="0.45"/>
<circle cx="427.80" cy="416.00" r="2.1" fill="#c3042e" stroke="#950022" stroke-width="0.45"/>
<circle cx="427.80" cy="420.80" r="2.1" fill="#c3042e" stroke="#950022" stroke-width="0.45"/>
<circle cx="427.80" cy="425.60" r="2.1" fill="#c3042e" stroke="#950022" stroke-width="0.45"/>
<circle cx="427.80" cy="430.40" r="2.1" fill="#c3042e" stroke="#950022" stroke-width="0.45"/>
<circle cx="427.80" cy="435.20" r="2.1" fill="#c3042e" stroke="#950022" stroke-width="0.45"/>
<circle cx="427.80" cy="440.00" r="2.1" fill="#c3042e" stroke="#950022" stroke-width="0.45"/>
<circle cx="427.80" cy="444.80" r="2.1" fill="#c3042e" stroke="#950022" stroke-width="0.45"/>
<circle cx="427.80" cy="449.60" r="2.1" fill="#c3042e" stroke="#950022" stroke-width="0.45"/>
<circle cx="427.80" cy="454.40" r="2.1" fill="#c3042e" stroke="#950022" stroke-width="0.45"/>
<circle cx="427.80" cy="459.20" r="2.1" fill="#c3042e" stroke="#950022" stroke-width="0.45"/>
<circle cx="427.80" cy="464.00" r="2.1" fill="#c3042e" stroke="#950022" stroke-width="0.45"/>
<circle cx="427.80" cy="468.80" r="2.1" fill="#c3042e" stroke="#950022" stroke-width="0.45"/>
<circle cx="432.60" cy="401.60" r="2.1" fill="#c3042e" stroke="#950022" stroke-width="0.45"/>
<circle cx="432.60" cy="406.40" r="2.1" fill="#c3042e" stroke="#950022" stroke-width="0.45"/>
<circle cx="432.60" cy="411.20" r="2.1" fill="#c3042e" stroke="#950022" stroke-width="0.45"/>
<circle cx="432.60" cy="416.00" r="2.1" fill="#c3042e" stroke="#950022" stroke-width="0.45"/>
<circle cx="432.60" cy="420.80" r="2.1" fill="#c3042e" stroke="#950022" stroke-width="0.45"/>
<circle cx="432.60" cy="425.60" r="2.1" fill="#c3042e" stroke="#950022" stroke-width="0.45"/>
<circle cx="432.60" cy="430.40" r="2.1" fill="#c3042e" stroke="#950022" stroke-width="0.45"/>
<circle cx="432.60" cy="435.20" r="2.1" fill="#c3042e" stroke="#950022" stroke-width="0.45"/>
<circle cx="432.60" cy="440.00" r="2.1" fill="#c3042e" stroke="#950022" stroke-width="0.45"/>
<circle cx="432.60" cy="444.80" r="2.1" fill="#c3042e" stroke="#950022" stroke-width="0.45"/>
<circle cx="432.60" cy="449.60" r="2.1" fill="#c3042e" stroke="#950022" stroke-width="0.45"/>
<circle cx="432.60" cy="454.40" r="2.1" fill="#c3042e" stroke="#950022" stroke-width="0.45"/>
<circle cx="432.60" cy="459.20" r="2.1" fill="#c3042e" stroke="#950022" stroke-width="0.45"/>
<circle cx="432.60" cy="464.00" r="2.1" fill="#c3042e" stroke="#950022" stroke-width="0.45"/>
<circle cx="432.60" cy="468.80" r="2.1" fill="#c3042e" stroke="#950022" stroke-width="0.45"/>
<circle cx="437.40" cy="401.60" r="2.1" fill="#c3042e" stroke="#950022" stroke-width="0.45"/>
<circle cx="437.40" cy="406.40" r="2.1" fill="#c3042e" stroke="#950022" stroke-width="0.45"/>
<circle cx="437.40" cy="411.20" r="2.1" fill="#c3042e" stroke="#950022" stroke-width="0.45"/>
<circle cx="437.40" cy="416.00" r="2.1" fill="#c3042e" stroke="#950022" stroke-width="0.45"/>
<circle cx="437.40" cy="420.80" r="2.1" fill="#c3042e" stroke="#950022" stroke-width="0.45"/>
<circle cx="437.40" cy="425.60" r="2.1" fill="#c3042e" stroke="#950022" stroke-width="0.45"/>
<circle cx="437.40" cy="430.40" r="2.1" fill="#c3042e" stroke="#950022" stroke-width="0.45"/>
<circle cx="437.40" cy="435.20" r="2.1" fill="#c3042e" stroke="#950022" stroke-width="0.45"/>
<circle cx="437.40" cy="440.00" r="2.1" fill="#c3042e" stroke="#950022" stroke-width="0.45"/>
<circle cx="437.40" cy="444.80" r="2.1" fill="#c3042e" stroke="#950022" stroke-width="0.45"/>
<circle cx="437.40" cy="449.60" r="2.1" fill="#c3042e" stroke="#950022" stroke-width="0.45"/>
<circle cx="437.40" cy="454.40" r="2.1" fill="#c3042e" stroke="#950022" stroke-width="0.45"/>
<circle cx="437.40" cy="459.20" r="2.1" fill="#c3042e" stroke="#950022" stroke-width="0.45"/>
<circle cx="437.40" cy="464.00" r="2.1" fill="#c3042e" stroke="#950022" stroke-width="0.45"/>
<circle cx="437.40" cy="468.80" r="2.1" fill="#c3042e" stroke="#950022" stroke-width="0.45"/>
<circle cx="442.20" cy="401.60" r="2.1" fill="#c3042e" stroke="#950022" stroke-width="0.45"/>
<circle cx="442.20" cy="406.40" r="2.1" fill="#c3042e" stroke="#950022" stroke-width="0.45"/>
<circle cx="442.20" cy="411.20" r="2.1" fill="#c3042e" stroke="#950022" stroke-width="0.45"/>
<circle cx="442.20" cy="416.00" r="2.1" fill="#c3042e" stroke="#950022" stroke-width="0.45"/>
<circle cx="442.20" cy="420.80" r="2.1" fill="#c3042e" stroke="#950022" stroke-width="0.45"/>
<circle cx="442.20" cy="425.60" r="2.1" fill="#c3042e" stroke="#950022" stroke-width="0.45"/>
<circle cx="442.20" cy="430.40" r="2.1" fill="#c3042e" stroke="#950022" stroke-width="0.45"/>
<circle cx="442.20" cy="435.20" r="2.1" fill="#c3042e" stroke="#950022" stroke-width="0.45"/>
<circle cx="442.20" cy="440.00" r="2.1" fill="#c3042e" stroke="#950022" stroke-width="0.45"/>
<circle cx="442.20" cy="444.80" r="2.1" fill="#c3042e" stroke="#950022" stroke-width="0.45"/>
<circle cx="442.20" cy="449.60" r="2.1" fill="#c3042e" stroke="#950022" stroke-width="0.45"/>
<circle cx="442.20" cy="454.40" r="2.1" fill="#c3042e" stroke="#950022" stroke-width="0.45"/>
<circle cx="442.20" cy="459.20" r="2.1" fill="#c3042e" stroke="#950022" stroke-width="0.45"/>
<circle cx="442.20" cy="464.00" r="2.1" fill="#c3042e" stroke="#950022" stroke-width="0.45"/>
<circle cx="442.20" cy="468.80" r="2.1" fill="#c3042e" stroke="#950022" stroke-width="0.45"/>
<circle cx="447.00" cy="401.60" r="2.1" fill="#c3042e" stroke="#950022" stroke-width="0.45"/>
<circle cx="447.00" cy="406.40" r="2.1" fill="#c3042e" stroke="#950022" stroke-width="0.45"/>
<circle cx="447.00" cy="411.20" r="2.1" fill="#c3042e" stroke="#950022" stroke-width="0.45"/>
<circle cx="447.00" cy="416.00" r="2.1" fill="#c3042e" stroke="#950022" stroke-width="0.45"/>
<circle cx="447.00" cy="420.80" r="2.1" fill="#c3042e" stroke="#950022" stroke-width="0.45"/>
<circle cx="447.00" cy="425.60" r="2.1" fill="#c3042e" stroke="#950022" stroke-width="0.45"/>
<circle cx="447.00" cy="430.40" r="2.1" fill="#c3042e" stroke="#950022" stroke-width="0.45"/>
<circle cx="447.00" cy="435.20" r="2.1" fill="#c3042e" stroke="#950022" stroke-width="0.45"/>
<circle cx="447.00" cy="440.00" r="2.1" fill="#c3042e" stroke="#950022" stroke-width="0.45"/>
<circle cx="447.00" cy="444.80" r="2.1" fill="#c3042e" stroke="#950022" stroke-width="0.45"/>
<circle cx="447.00" cy="449.60" r="2.1" fill="#c3042e" stroke="#950022" stroke-width="0.45"/>
<circle cx="447.00" cy="454.40" r="2.1" fill="#c3042e" stroke="#950022" stroke-width="0.45"/>
<circle cx="447.00" cy="459.20" r="2.1" fill="#c3042e" stroke="#950022" stroke-width="0.45"/>
<circle cx="447.00" cy="464.00" r="2.1" fill="#c3042e" stroke="#950022" stroke-width="0.45"/>
<circle cx="447.00" cy="468.80" r="2.1" fill="#c3042e" stroke="#950022" stroke-width="0.45"/>
<circle cx="451.80" cy="401.60" r="2.1" fill="#c3042e" stroke="#950022" stroke-width="0.45"/>
<circle cx="451.80" cy="406.40" r="2.1" fill="#c3042e" stroke="#950022" stroke-width="0.45"/>
<circle cx="451.80" cy="411.20" r="2.1" fill="#c3042e" stroke="#950022" stroke-width="0.45"/>
<circle cx="451.80" cy="416.00" r="2.1" fill="#c3042e" stroke="#950022" stroke-width="0.45"/>
<circle cx="457.00" cy="401.60" r="2.1" fill="#c3042e" stroke="#950022" stroke-width="0.45"/>
<circle cx="457.00" cy="406.40" r="2.1" fill="#c3042e" stroke="#950022" stroke-width="0.45"/>
<circle cx="457.00" cy="411.20" r="2.1" fill="#c3042e" stroke="#950022" stroke-width="0.45"/>
<circle cx="457.00" cy="416.00" r="2.1" fill="#c3042e" stroke="#950022" stroke-width="0.45"/>
<circle cx="457.00" cy="420.80" r="2.1" fill="#c3042e" stroke="#950022" stroke-width="0.45"/>
<circle cx="457.00" cy="425.60" r="2.1" fill="#c3042e" stroke="#950022" stroke-width="0.45"/>
<circle cx="457.00" cy="430.40" r="2.1" fill="#c3042e" stroke="#950022" stroke-width="0.45"/>
<circle cx="457.00" cy="435.20" r="2.1" fill="#c3042e" stroke="#950022" stroke-width="0.45"/>
<circle cx="457.00" cy="440.00" r="2.1" fill="#c3042e" stroke="#950022" stroke-width="0.45"/>
<circle cx="457.00" cy="444.80" r="2.1" fill="#c3042e" stroke="#950022" stroke-width="0.45"/>
<circle cx="457.00" cy="449.60" r="2.1" fill="#c3042e" stroke="#950022" stroke-width="0.45"/>
<circle cx="457.00" cy="454.40" r="2.1" fill="#c3042e" stroke="#950022" stroke-width="0.45"/>
<circle cx="457.00" cy="459.20" r="2.1" fill="#c3042e" stroke="#950022" stroke-width="0.45"/>
<text transform="translate(424.77,485.40) rotate(-90)" text-anchor="start" font-size="5.6" fill="#2a2a2a">p.(Arg525His)</text>
<text transform="translate(461.57,486.00) rotate(-90)" text-anchor="start" font-size="5.6" fill="#2a2a2a">p.(Gly530Arg);</text>
<text transform="translate(468.37,486.00) rotate(-90)" text-anchor="start" font-size="5.6" fill="#2a2a2a">p.(Gly530Asp)</text>
<text x="6.8" y="507.6" font-size="7.3" fill="#151515" stroke="#151515" stroke-width="0.15">MPN</text>
<rect x="9.5" y="577.5" width="504.0" height="13" fill="#fff" stroke="#3a3a3a" stroke-width="1"/>
<rect x="80.5" y="577.5" width="32.5" height="13" fill="#c4c4c4" stroke="#3a3a3a" stroke-width="1"/>
<text x="96.75" y="582.70" text-anchor="middle" font-size="5.6" fill="#2a2a2a">Coiled coil</text>
<text x="96.75" y="589.80" text-anchor="middle" font-size="5.6" fill="#2a2a2a">87-124</text>
<rect x="158.8" y="577.5" width="23.19999999999999" height="13" fill="#c4c4c4" stroke="#3a3a3a" stroke-width="1"/>
<text x="170.80" y="582.70" text-anchor="middle" font-size="5.6" fill="#2a2a2a">Q motif</text>
<text x="170.80" y="589.80" text-anchor="middle" font-size="5.6" fill="#2a2a2a">181-209</text>
<rect x="183.7" y="577.5" width="150.0" height="13" fill="#c4c4c4" stroke="#3a3a3a" stroke-width="1"/>
<text x="258.70" y="582.70" text-anchor="middle" font-size="5.6" fill="#2a2a2a">DEAD box</text>
<text x="258.70" y="589.80" text-anchor="middle" font-size="5.6" fill="#2a2a2a">212-396</text>
<rect x="342.4" y="577.5" width="127.60000000000002" height="13" fill="#c4c4c4" stroke="#3a3a3a" stroke-width="1"/>
<text x="406.20" y="582.70" text-anchor="middle" font-size="5.6" fill="#2a2a2a">Helicase</text>
<text x="406.20" y="589.80" text-anchor="middle" font-size="5.6" fill="#2a2a2a">407-567</text>
<rect x="480.3" y="577.5" width="12.300000000000011" height="13" fill="#bcbcbc" stroke="#3a3a3a" stroke-width="1"/>
<text transform="translate(485.30,589.00) rotate(-90)" font-size="4.6" fill="#333">ZnF</text>
<text transform="translate(489.90,589.00) rotate(-90)" font-size="2.6" fill="#444">580-622</text>
<polyline points="28.70,565.00 28.70,577.00" fill="none" stroke="#3a3a3a" stroke-width="1.0"/>
<polyline points="55.50,565.00 55.50,577.00" fill="none" stroke="#3a3a3a" stroke-width="1.0"/>
<polyline points="132.40,565.00 135.20,573.00 135.20,577.00" fill="none" stroke="#3a3a3a" stroke-width="1.0"/>
<polyline points="137.60,565.00 135.20,573.00 135.20,577.00" fill="none" stroke="#3a3a3a" stroke-width="1.0"/>
<polyline points="172.70,565.00 172.70,577.00" fill="none" stroke="#3a3a3a" stroke-width="1.0"/>
<polyline points="188.30,565.00 188.30,577.00" fill="none" stroke="#3a3a3a" stroke-width="1.0"/>
<polyline points="196.20,565.00 196.20,577.00" fill="none" stroke="#3a3a3a" stroke-width="1.0"/>
<polyline points="258.50,565.00 258.50,577.00" fill="none" stroke="#3a3a3a" stroke-width="1.0"/>
<polyline points="430.50,565.00 430.50,577.00" fill="none" stroke="#3a3a3a" stroke-width="1.0"/>
<polyline points="438.60,565.00 438.60,577.00" fill="none" stroke="#3a3a3a" stroke-width="1.0"/>
<polyline points="471.60,565.00 471.60,577.00" fill="none" stroke="#3a3a3a" stroke-width="1.0"/>
<circle cx="28.70" cy="565.00" r="2.1" fill="#44a544" stroke="#2a7a2a" stroke-width="0.45"/>
<circle cx="55.50" cy="565.00" r="2.1" fill="#44a544" stroke="#2a7a2a" stroke-width="0.45"/>
<circle cx="132.40" cy="565.00" r="2.1" fill="#44a544" stroke="#2a7a2a" stroke-width="0.45"/>
<circle cx="137.60" cy="565.00" r="2.1" fill="#3ea5d4" stroke="#2a82ad" stroke-width="0.45"/>
<circle cx="172.70" cy="565.00" r="2.1" fill="#44a544" stroke="#2a7a2a" stroke-width="0.45"/>
<circle cx="172.70" cy="560.20" r="2.1" fill="#44a544" stroke="#2a7a2a" stroke-width="0.45"/>
<circle cx="188.30" cy="565.00" r="2.1" fill="#3ea5d4" stroke="#2a82ad" stroke-width="0.45"/>
<circle cx="196.20" cy="565.00" r="2.1" fill="#44a544" stroke="#2a7a2a" stroke-width="0.45"/>
<circle cx="258.50" cy="565.00" r="2.1" fill="#44a544" stroke="#2a7a2a" stroke-width="0.45"/>
<circle cx="430.50" cy="565.00" r="2.1" fill="#44a544" stroke="#2a7a2a" stroke-width="0.45"/>
<circle cx="438.60" cy="565.00" r="2.1" fill="#3ea5d4" stroke="#2a82ad" stroke-width="0.45"/>
<circle cx="471.60" cy="565.00" r="2.1" fill="#44a544" stroke="#2a7a2a" stroke-width="0.45"/>
<text transform="translate(30.27,561.30) rotate(-90)" text-anchor="start" font-size="5.6" fill="#2a2a2a">p.(Ser21Ile)</text>
<text transform="translate(57.07,561.30) rotate(-90)" text-anchor="start" font-size="5.6" fill="#2a2a2a">p.(Arg54Ser)</text>
<text transform="translate(133.97,561.30) rotate(-90)" text-anchor="start" font-size="5.6" fill="#2a2a2a">p.(Tyr151His)</text>
<text transform="translate(139.17,561.30) rotate(-90)" text-anchor="start" font-size="5.6" fill="#2a2a2a">p.(Met155Ile)</text>
<text transform="translate(174.27,556.50) rotate(-90)" text-anchor="start" font-size="5.6" fill="#2a2a2a">p.(Lys197Lys)</text>
<text transform="translate(189.87,561.30) rotate(-90)" text-anchor="start" font-size="5.6" fill="#2a2a2a">p.(Gly218Asp)</text>
<text transform="translate(197.77,561.30) rotate(-90)" text-anchor="start" font-size="5.6" fill="#2a2a2a">p.(Thr227Ile)</text>
<text transform="translate(260.07,561.30) rotate(-90)" text-anchor="start" font-size="5.6" fill="#2a2a2a">p.(Val303Met)</text>
<text transform="translate(432.07,561.30) rotate(-90)" text-anchor="start" font-size="5.6" fill="#2a2a2a">p.(Arg519Trp)</text>
<text transform="translate(440.17,561.30) rotate(-90)" text-anchor="start" font-size="5.6" fill="#2a2a2a">p.(Thr529Argfs*12)</text>
<text transform="translate(473.17,561.30) rotate(-90)" text-anchor="start" font-size="5.6" fill="#2a2a2a">p.(Cys568Arg)</text>
<circle cx="93.0" cy="603.2" r="2.3" fill="#3ea5d4" stroke="#2a82ad" stroke-width="0.35"/>
<text x="99.0" y="605.1" font-size="5.55" fill="#2a2a2a">germline LP/P</text>
<circle cx="145.0" cy="603.2" r="2.3" fill="#44a544" stroke="#2a7a2a" stroke-width="0.35"/>
<text x="150.5" y="605.1" font-size="5.55" fill="#2a2a2a">germline VUS</text>
<circle cx="195.8" cy="603.2" r="2.3" fill="#c3042e" stroke="#950022" stroke-width="0.35"/>
<text x="201.2" y="605.1" font-size="5.55" fill="#2a2a2a">somatic</text>
<circle cx="231.6" cy="603.2" r="2.3" fill="#0b6142" stroke="#07452e" stroke-width="0.35"/>
<text x="237.3" y="605.1" font-size="5.55" fill="#2a2a2a">germline LP/P with 2nd hit</text>
<line x1="311.7" y1="603.2" x2="327" y2="603.2" stroke="#c8175a" stroke-width="1.2"/>
<text x="330.2" y="605.1" font-size="5.55" fill="#2a2a2a">germline multi-exon deletion with 2nd hit</text>
</svg>
</body></html>
